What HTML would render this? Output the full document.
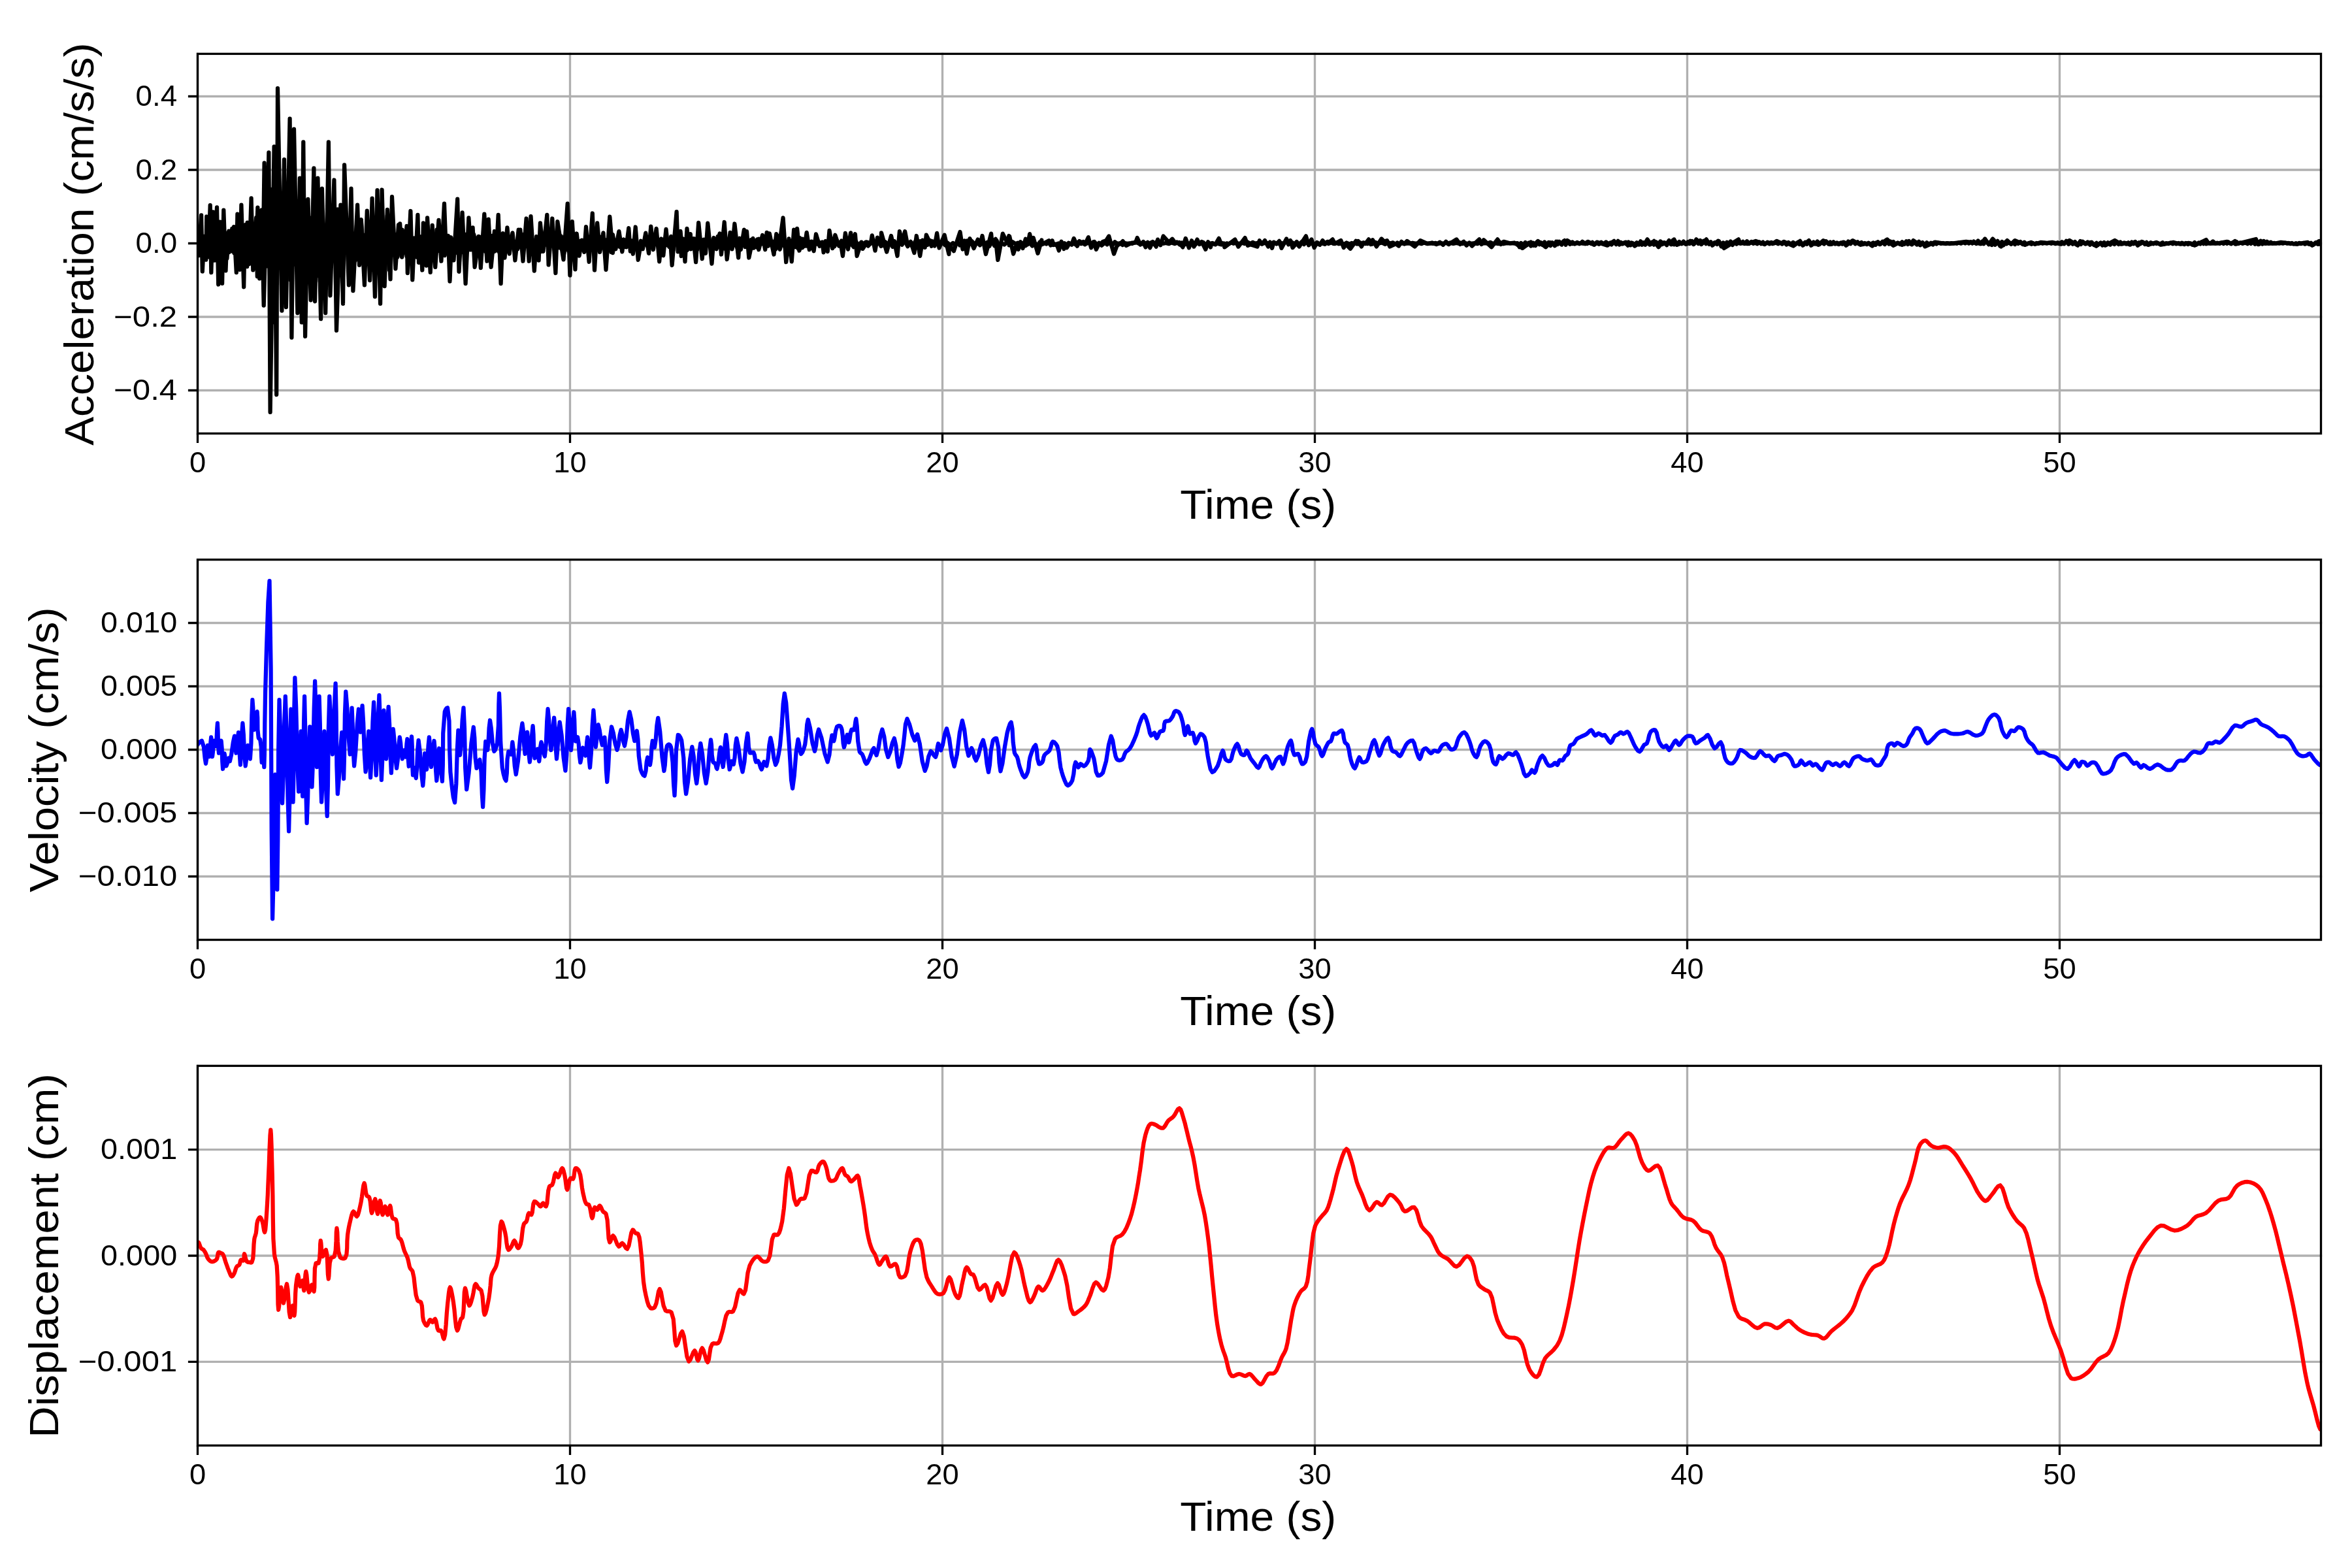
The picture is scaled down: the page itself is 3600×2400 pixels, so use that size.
<!DOCTYPE html><html><head><meta charset="utf-8"><style>html,body{margin:0;padding:0;background:#fff;}svg{display:block;will-change:transform;}text{font-family:"Liberation Sans",sans-serif;fill:#000;}</style></head><body>
<svg width="3600" height="2400" viewBox="0 0 3600 2400">
<rect x="0" y="0" width="3600" height="2400" fill="#ffffff"/>
<clipPath id="c0"><rect x="302.5" y="82.4" width="3250.0" height="581.1"/></clipPath>
<path d="M302.5 82.4V663.5M872.5 82.4V663.5M1442.5 82.4V663.5M2012.5 82.4V663.5M2582.5 82.4V663.5M3152.5 82.4V663.5M302.5 147.5H3552.5M302.5 260.0H3552.5M302.5 372.5H3552.5M302.5 485.0H3552.5M302.5 597.5H3552.5" stroke="#b0b0b0" stroke-width="3.33" fill="none" stroke-linecap="square"/>
<path d="M302.5 365.0L305.0 385.6L307.4 357.4L310.4 378.1L313.6 366.0L316.6 379.3L319.1 355.5L322.9 381.4L325.5 350.2L329.6 395.2L332.6 341.6L334.9 403.2L337.7 363.3L340.2 387.5L344.0 362.7L347.4 395.7L350.3 353.6L352.7 380.1L355.3 350.0L358.4 387.2L361.7 354.7L364.6 401.1L368.1 359.3L371.5 395.0L375.4 344.1L378.2 408.2L380.7 351.8L384.4 382.8L387.5 361.8L391.1 406.2L394.4 317.6L397.2 426.4L400.6 321.5L403.7 467.6L407.8 316.5L411.3 405.4L414.9 289.8L419.0 493.3L421.8 307.6L425.3 400.0L428.5 330.8L430.9 401.0L434.7 337.0L437.4 425.6L441.3 343.8L444.4 428.3L448.3 280.9L452.2 404.9L455.3 324.2L459.2 448.6L461.7 341.5L464.4 401.8L467.6 313.2L470.3 387.0L473.4 333.2L476.7 443.7L480.3 327.3L483.7 423.3L486.0 303.8L489.8 430.8L493.5 332.2L496.5 390.3L500.0 352.6L502.4 396.9L504.9 333.2L507.3 385.5L509.8 350.6L512.7 387.4L516.7 320.4L519.2 401.0L522.1 338.1L524.6 431.2L528.7 335.3L531.9 387.1L534.3 343.3L537.1 415.4L539.6 361.0L543.7 399.0L546.2 341.5L548.5 397.1L552.6 336.1L556.2 388.5L559.1 359.6L562.9 399.5L566.6 353.3L569.3 412.9L573.4 333.3L577.2 415.5L580.8 355.9L584.1 396.5L586.4 363.3L589.1 391.7L592.7 330.1L595.8 413.2L600.0 332.0L602.9 385.5L605.6 359.1L608.2 393.9L612.2 342.4L615.3 393.6L619.1 364.8L622.6 392.4L626.6 357.0L629.9 378.8L633.9 364.4L637.9 393.7L641.1 363.5L645.4 387.8L648.2 368.3L650.9 389.8L654.9 368.3L659.0 390.0L662.7 364.3L666.2 376.8L668.6 351.6L672.3 384.0L676.6 360.1L680.7 391.2L683.5 363.7L686.5 380.3L690.1 363.2L693.3 378.2L697.6 360.7L700.9 387.8L705.1 359.3L709.4 386.4L712.8 358.8L715.2 385.1L718.0 369.8L722.0 378.7L725.3 358.9L728.9 380.4L732.3 361.8L736.3 376.0L739.8 366.4L742.7 384.8L746.2 361.4L750.1 389.7L753.4 360.8L756.8 385.0L760.6 363.3L764.1 385.9L768.4 359.9L772.5 394.6L775.4 363.6L779.7 388.5L782.4 369.7L785.7 375.3L788.5 370.3L792.3 381.2L796.5 368.7L800.3 381.5L803.0 357.9L807.4 377.2L811.7 364.7L815.1 389.2L819.1 368.0L822.4 382.2L825.5 367.4L828.5 385.0L830.9 361.9L834.2 374.9L837.3 360.8L840.7 375.6L845.1 358.2L849.4 376.5L852.4 369.3L856.3 379.3L859.0 361.6L863.2 388.7L866.1 366.3L870.4 384.7L874.2 367.7L876.7 386.6L879.9 368.6L884.2 384.9L888.2 369.0L892.4 375.6L896.5 363.8L899.6 382.3L903.8 365.9L906.5 382.1L909.4 368.4L912.1 375.3L914.9 365.3L917.9 385.4L920.8 362.7L923.6 379.5L926.0 366.7L928.4 384.9L931.9 367.8L935.3 385.8L937.9 359.0L941.1 378.8L945.2 366.1L948.6 377.9L953.0 367.8L957.1 377.7L960.8 367.8L963.8 374.0L966.5 370.6L970.4 375.9L973.1 370.5L977.2 381.5L980.9 368.7L983.8 376.1L987.1 369.8L990.4 376.0L994.8 362.4L998.3 376.0L1002.6 368.5L1005.7 373.9L1008.9 367.2L1012.3 376.1L1015.7 371.0L1018.6 375.1L1021.8 370.2L1024.2 377.7L1027.1 361.8L1030.5 383.0L1034.3 358.0L1038.4 378.5L1041.5 353.9L1044.2 381.8L1047.9 369.9L1051.9 382.9L1055.6 362.1L1059.6 375.3L1063.1 365.5L1067.2 382.1L1071.2 364.4L1075.4 381.2L1079.2 368.4L1081.7 375.5L1084.8 369.8L1088.9 380.1L1092.5 364.0L1096.3 379.2L1098.7 362.0L1102.6 378.8L1106.1 363.4L1108.6 380.5L1111.5 370.0L1114.4 380.0L1117.2 362.6L1121.6 377.8L1124.7 365.7L1128.5 379.9L1132.1 364.7L1134.7 374.8L1137.6 364.5L1140.6 378.0L1143.0 370.8L1145.9 378.8L1149.7 366.9L1152.7 377.2L1156.0 368.6L1158.6 378.6L1161.4 365.7L1165.7 373.3L1169.0 366.9L1173.4 375.5L1176.3 370.2L1180.6 374.8L1184.2 369.8L1187.6 381.2L1190.3 361.1L1193.7 381.8L1197.5 367.4L1201.7 378.8L1204.2 370.5L1207.5 378.4L1210.5 369.2L1213.6 377.1L1217.7 371.1L1221.6 380.5L1224.2 364.1L1228.1 379.3L1231.0 370.2L1234.8 376.4L1239.0 370.5L1242.8 373.5L1245.7 372.0L1250.6 373.6L1255.6 371.2L1259.0 374.6L1262.3 370.4L1267.4 376.3L1272.1 368.8L1277.1 377.3L1281.2 368.6L1284.2 376.6L1288.0 368.6L1292.4 374.2L1295.3 368.0L1298.4 375.2L1302.0 371.0L1306.6 378.1L1310.0 369.4L1313.6 375.7L1317.3 371.8L1320.5 373.6L1325.5 370.5L1328.8 376.4L1334.0 370.6L1337.1 373.2L1340.1 370.9L1343.2 373.4L1346.6 369.7L1351.5 375.6L1355.3 370.4L1359.4 374.3L1363.0 372.2L1366.4 377.8L1369.5 369.8L1373.8 377.5L1377.2 371.0L1380.6 374.7L1384.4 367.3L1389.3 377.2L1392.1 372.3L1396.6 377.4L1400.6 369.9L1403.4 374.7L1408.4 369.3L1413.2 377.9L1416.6 372.0L1419.8 374.8L1424.2 368.3L1428.8 374.5L1433.4 370.4L1437.5 372.6L1442.2 371.5L1447.2 375.6L1450.7 371.9L1454.2 375.7L1458.6 372.0L1461.6 375.1L1465.8 370.5L1469.1 375.4L1472.0 370.9L1475.9 377.1L1480.2 368.6L1484.2 373.6L1487.5 369.0L1492.0 374.0L1494.9 370.8L1499.3 374.6L1502.7 369.8L1507.7 373.8L1510.6 371.0L1514.4 376.9L1517.7 368.9L1522.3 376.3L1525.6 368.2L1529.1 378.7L1532.5 371.5L1537.1 374.5L1542.2 370.4L1545.4 373.8L1549.2 369.9L1554.3 373.2L1558.1 371.7L1563.2 373.1L1566.1 372.3L1569.9 376.1L1574.8 369.3L1580.0 376.5L1583.6 371.8L1588.6 375.9L1591.5 370.4L1595.2 374.0L1598.8 372.1L1601.6 373.5L1605.3 371.0L1608.3 375.5L1611.6 372.0L1616.4 375.1L1620.3 372.4L1624.2 373.7L1629.2 372.2L1632.9 375.2L1635.7 371.7L1640.5 374.4L1643.4 372.4L1646.3 374.3L1649.8 370.6L1654.7 373.1L1658.2 369.9L1662.4 373.1L1667.0 371.6L1670.4 372.5L1675.0 370.0L1679.4 375.1L1682.2 371.8L1686.2 375.7L1691.3 371.3L1694.7 374.3L1698.6 369.4L1701.9 376.4L1706.5 370.2L1711.1 375.2L1714.7 371.9L1718.4 375.0L1721.4 372.2L1726.0 372.9L1728.9 372.4L1733.0 372.9L1738.2 370.3L1743.4 372.9L1746.4 372.3L1750.4 373.9L1754.2 372.0L1758.0 373.8L1762.5 370.8L1767.3 373.8L1770.4 370.1L1773.9 373.5L1777.6 370.1L1780.9 372.8L1784.2 372.0L1789.2 373.1L1792.7 371.4L1797.9 373.1L1801.3 370.5L1805.7 374.4L1808.7 371.4L1813.5 374.2L1818.5 372.4L1822.0 372.8L1825.2 370.4L1829.4 374.7L1833.1 370.8L1837.0 373.2L1841.7 371.0L1844.7 374.2L1849.0 372.1L1852.7 372.9L1856.0 372.0L1860.2 374.0L1863.5 372.5L1867.1 373.8L1870.3 371.8L1873.6 373.9L1877.7 372.4L1880.8 373.2L1884.9 371.2L1887.9 372.8L1892.4 371.6L1895.9 373.0L1901.0 371.7L1905.1 373.0L1908.9 370.3L1914.1 373.1L1917.4 370.9L1920.7 372.5L1925.6 371.8L1930.4 373.2L1935.3 371.9L1938.5 372.5L1942.6 371.7L1947.6 372.7L1951.9 371.9L1955.9 372.8L1959.4 371.5L1964.4 372.7L1968.4 370.8L1973.5 372.9L1976.6 370.4L1981.8 373.5L1984.7 370.0L1988.4 374.2L1992.7 369.9L1995.9 374.0L1999.2 371.1L2004.1 374.1L2007.3 371.8L2011.1 373.5L2014.8 372.2L2018.2 373.8L2023.1 372.4L2027.3 373.4L2030.2 371.0L2033.2 373.0L2037.4 371.3L2040.9 373.0L2045.1 371.7L2049.5 373.3L2053.3 372.5L2057.6 373.7L2061.0 371.5L2065.7 373.6L2068.9 371.9L2071.9 372.8L2075.8 372.4L2079.6 373.5L2082.5 371.5L2085.5 373.8L2090.2 371.6L2093.1 373.2L2096.8 370.7L2100.0 373.8L2105.2 371.0L2109.9 372.8L2115.1 371.5L2120.2 373.8L2123.4 371.0L2128.4 372.6L2132.0 371.3L2135.2 373.8L2138.7 371.5L2141.8 373.2L2146.8 372.3L2150.3 373.2L2153.8 372.5L2157.1 372.7L2162.1 371.7L2167.1 372.7L2171.7 372.3L2175.8 373.2L2179.5 371.4L2183.6 372.9L2188.5 372.4L2193.7 372.8L2197.5 371.9L2200.9 373.1L2205.1 372.2L2209.7 372.8L2212.9 371.6L2215.9 373.0L2219.3 371.5L2224.4 372.9L2228.8 371.9L2231.6 372.5L2234.8 371.4L2238.6 373.0L2243.6 372.3L2246.9 373.3L2249.8 372.5L2253.4 372.6L2257.1 372.1L2261.3 373.2L2264.6 371.4L2268.5 372.7L2273.6 372.1L2276.7 372.7L2281.0 370.9L2285.7 373.2L2289.2 372.5L2293.5 373.2L2297.1 371.3L2301.0 373.3L2305.6 372.2L2310.5 372.5L2314.6 372.2L2318.0 372.6L2322.7 372.2L2325.7 378.2L2328.1 372.0L2331.3 376.2L2334.6 371.0L2337.0 375.1L2339.6 371.9L2343.3 376.4L2346.7 371.8L2350.3 375.9L2353.3 370.2L2356.2 374.2L2358.5 371.3L2360.6 374.7L2364.1 370.5L2367.7 376.1L2370.3 370.9L2373.2 376.1L2376.2 371.3L2379.5 376.1L2381.9 369.8L2384.1 373.9L2386.6 369.8L2390.4 374.5L2393.1 369.3L2395.8 373.4L2399.5 369.9L2402.9 373.8L2406.7 370.5L2410.3 373.5L2414.0 370.9L2417.4 373.2L2420.0 371.5L2423.3 372.8L2427.0 371.7L2429.1 373.0L2432.9 371.4L2435.3 373.0L2437.4 370.9L2440.7 374.1L2444.1 371.9L2447.3 373.7L2450.9 370.8L2454.6 373.3L2458.2 370.4L2462.0 373.3L2464.5 371.6L2466.6 374.5L2470.2 370.4L2473.8 374.1L2476.4 371.6L2478.7 374.4L2481.2 371.1L2484.0 373.2L2486.6 371.4L2490.0 374.1L2492.6 370.6L2495.7 375.3L2498.9 372.0L2501.7 374.4L2505.2 371.2L2508.6 374.4L2511.1 369.3L2513.3 374.7L2515.7 371.4L2518.2 374.7L2522.1 371.3L2525.0 374.5L2528.6 370.7L2531.6 374.6L2535.2 370.6L2539.0 374.6L2541.4 369.4L2544.4 374.0L2547.7 371.2L2551.2 375.2L2554.7 369.1L2557.5 374.0L2560.3 368.0L2562.5 374.3L2564.7 370.5L2567.2 374.2L2570.3 370.1L2573.9 373.2L2576.9 369.6L2580.3 373.8L2583.6 370.2L2586.3 373.0L2589.9 369.0L2593.3 373.0L2596.2 368.4L2599.4 372.9L2602.3 368.0L2604.8 373.1L2607.5 368.7L2611.1 373.1L2613.5 370.4L2616.2 373.9L2618.5 370.2L2621.0 375.7L2624.4 371.2L2628.2 374.0L2631.0 369.1L2634.6 377.3L2637.4 371.4L2640.7 374.5L2643.2 370.7L2645.3 375.5L2648.8 369.5L2651.8 375.0L2654.8 370.9L2658.0 373.5L2661.4 367.9L2664.3 372.7L2667.7 369.9L2670.2 372.9L2673.9 369.2L2677.3 373.0L2680.6 370.0L2683.5 372.9L2686.7 371.6L2689.6 373.3L2693.0 370.5L2695.5 373.2L2698.5 370.6L2701.3 373.4L2705.1 371.5L2708.3 373.4L2711.1 370.9L2715.0 372.7L2718.1 371.4L2721.6 373.3L2724.6 371.6L2727.8 373.5L2731.1 370.8L2734.4 374.5L2737.4 371.0L2741.2 373.8L2744.6 371.0L2748.0 373.6L2751.9 370.9L2754.1 373.9L2756.9 371.6L2759.8 374.1L2763.1 370.7L2765.7 373.6L2769.2 369.1L2772.2 373.6L2775.7 370.6L2778.2 373.4L2781.7 369.5L2785.0 373.9L2788.1 371.0L2791.9 373.5L2795.2 369.4L2798.7 373.4L2801.4 370.6L2803.7 373.8L2806.4 370.4L2809.0 373.4L2811.6 371.4L2814.0 373.0L2817.4 371.5L2819.9 373.6L2822.9 371.0L2826.2 374.4L2828.9 369.4L2832.5 373.2L2836.1 369.2L2839.6 373.3L2843.2 370.3L2845.4 373.1L2849.2 370.9L2851.7 373.3L2854.1 371.9L2857.6 374.0L2860.0 371.8L2863.5 373.7L2867.2 371.5L2870.7 374.8L2874.4 370.2L2878.0 373.6L2881.4 369.8L2884.8 374.0L2888.5 369.2L2891.1 373.5L2893.4 369.5L2895.6 374.0L2898.0 370.0L2901.0 374.2L2904.6 371.6L2908.2 373.9L2911.4 370.3L2915.0 373.6L2917.8 369.3L2920.1 373.9L2923.3 371.6L2926.5 374.3L2930.3 370.7L2934.1 374.5L2937.1 369.7L2939.3 375.3L2942.5 371.3L2946.2 374.5L2949.1 371.3L2952.6 373.9L2955.5 371.7L2958.6 374.5L2961.2 371.2L2964.0 373.5L2966.6 371.6L2970.5 372.9L2974.0 372.0L2976.7 372.7L2979.8 372.1L2983.3 372.6L2986.7 372.1L2989.8 372.6L2992.5 372.3L2994.9 372.8L2998.1 371.4L3001.6 372.7L3004.8 370.9L3008.0 372.5L3011.2 370.8L3013.7 372.6L3016.6 370.2L3018.9 372.6L3021.1 369.6L3024.8 373.0L3027.6 368.5L3031.1 373.2L3033.7 369.8L3036.5 373.2L3039.4 368.4L3043.2 373.1L3046.3 370.9L3048.6 375.0L3051.8 367.3L3054.7 373.4L3057.5 368.8L3061.2 376.3L3064.2 369.9L3066.5 375.4L3069.0 371.0L3071.1 373.3L3074.4 371.3L3078.3 373.3L3081.9 371.3L3084.1 374.0L3086.6 369.7L3089.0 373.0L3092.5 370.1L3096.2 374.0L3098.4 370.7L3101.8 373.6L3105.6 371.8L3109.4 373.8L3111.5 372.2L3114.8 373.7L3117.0 371.9L3120.5 372.9L3124.1 371.7L3126.3 372.8L3129.4 371.8L3132.8 372.7L3136.3 371.8L3139.6 372.8L3142.4 371.8L3145.9 373.2L3149.4 371.1L3152.1 372.8L3155.9 370.3L3159.5 373.2L3162.7 368.9L3166.3 373.8L3169.0 370.4L3172.6 373.7L3176.0 370.1L3179.7 374.7L3182.3 371.7L3184.9 374.0L3188.0 369.9L3191.7 373.3L3195.3 370.5L3199.0 374.6L3201.6 370.9L3205.1 375.0L3208.9 371.9L3211.1 374.7L3214.7 371.9L3218.1 375.5L3220.6 371.0L3224.0 374.2L3226.4 371.3L3229.9 374.5L3232.8 371.4L3236.4 374.0L3238.9 370.0L3242.6 373.9L3245.6 370.6L3248.8 373.1L3251.2 371.5L3254.6 373.6L3257.7 371.3L3260.8 373.3L3262.9 370.5L3265.7 373.3L3268.9 370.8L3271.3 374.3L3274.0 371.2L3276.2 373.2L3280.1 370.7L3283.0 374.0L3285.6 370.9L3288.5 374.5L3292.0 371.1L3295.8 373.3L3298.0 371.9L3300.4 373.0L3302.6 371.7L3306.2 373.5L3310.1 371.3L3312.3 373.7L3315.1 372.1L3318.9 373.1L3322.0 371.6L3325.9 373.3L3328.7 371.8L3331.0 373.4L3334.9 372.0L3337.1 373.0L3339.8 371.6L3343.6 374.0L3345.7 371.9L3349.1 374.0L3353.0 372.3L3355.4 374.6L3359.1 371.1L3361.8 374.3L3365.3 371.5L3367.9 373.4L3370.3 370.2L3372.7 373.1L3375.0 369.2L3377.1 373.3L3379.6 371.3L3383.4 372.6L3387.1 369.4L3390.8 372.6L3393.7 371.6L3397.5 372.9L3400.8 371.3L3403.5 373.0L3406.4 370.8L3408.8 372.8L3411.0 370.5L3414.1 372.8L3417.7 371.2L3420.6 372.9L3423.2 370.0L3425.9 372.9L3428.9 371.3L3432.6 372.8L3436.4 371.5L3440.2 373.2L3442.6 370.0L3445.3 372.9L3447.7 369.9L3451.6 373.8L3455.4 370.8L3458.0 373.7L3460.2 368.7L3462.8 373.6L3464.9 368.9L3467.7 372.8L3469.8 369.7L3472.8 372.7L3475.7 370.6L3478.2 372.7L3480.5 371.9L3484.0 372.7L3486.5 372.1L3488.7 372.6L3491.7 371.9L3494.2 372.7L3497.6 371.6L3500.7 372.7L3502.9 371.9L3505.8 373.1L3508.0 372.0L3510.7 373.4L3514.3 372.2L3516.5 373.5L3519.4 371.8L3522.0 373.1L3525.6 371.9L3528.0 373.6L3531.2 372.1L3534.2 373.9L3537.2 371.8L3540.6 374.7L3544.3 371.2L3547.6 373.7L3551.1 371.7" stroke="#000" stroke-width="6.25" fill="none" stroke-linejoin="round" clip-path="url(#c0)"/>
<path d="M302.5 391.1L304.3 391.1L308.1 329.3L309.8 415.5L312.5 361.8L315.2 397.6L316.3 331.5L319.0 393.3L321.7 314.1L323.3 417.1L326.0 324.4L328.2 398.7L332.0 317.4L334.2 435.5L336.9 339.6L340.1 433.9L342.3 321.7L345.5 414.4L347.7 357.0L350.4 386.2L353.1 353.7L355.3 384.6L358.0 347.2L361.8 417.1L363.4 327.7L367.2 412.8L369.4 313.6L373.2 439.3L374.8 352.1L376.7 380.4L378.6 340.7L381.3 404.1L384.6 303.3L387.3 413.3L392.2 333.1L393.8 423.1L397.0 361.3L399.2 417.1L400.3 357.0L402.5 403.3L404.6 249.4L408.0 407.3L411.4 233.4L413.6 630.9L419.6 224.4L423.2 604.1L425.0 135.1L431.4 475.6L435.0 244.1L437.9 470.2L443.6 181.6L446.4 516.6L450.0 197.6L455.4 479.1L458.9 272.6L461.8 493.4L464.3 217.3L467.1 514.9L471.4 304.8L475.7 459.5L480.4 257.3L482.1 461.3L486.4 272.6L491.1 488.1L492.9 288.7L498.2 479.1L502.9 217.3L505.4 452.4L511.4 275.5L515.0 505.9L521.4 313.7L525.0 464.9L527.1 252.3L533.9 436.3L537.5 288.7L540.4 445.2L547.1 313.7L550.0 405.9L552.9 336.9L557.9 436.3L561.8 322.6L566.1 429.1L569.6 303.7L573.9 454.1L577.5 291.2L582.1 464.9L584.6 290.5L588.6 438.1L592.9 320.9L597.5 427.4L600.0 301.2L605.4 411.3L610.0 344.1L614.3 391.6L615.7 351.7L619.2 379.1L622.6 346.0L623.8 418.0L628.4 323.0L631.3 428.4L634.1 366.7L636.7 383.4L639.4 328.8L641.0 402.0L643.6 362.3L646.3 413.5L647.9 341.4L652.5 406.6L654.1 333.4L658.7 416.9L661.7 344.8L666.2 408.9L671.5 336.8L675.4 399.7L680.0 311.6L682.9 387.7L685.8 360.9L688.5 430.7L690.8 373.5L694.5 398.5L700.2 304.7L702.5 415.8L707.6 325.3L712.6 434.1L717.4 333.4L720.5 382.3L723.6 348.3L726.6 408.9L733.5 362.1L735.8 410.0L741.3 327.6L745.4 399.7L747.7 335.7L751.6 408.9L756.9 354.0L759.8 383.4L762.7 328.8L766.6 434.1L769.8 357.1L773.0 384.8L776.4 348.3L779.9 383.6L784.5 356.3L788.4 398.5L793.7 351.7L795.0 377.7L796.4 351.7L800.5 399.7L805.6 334.5L809.7 399.7L812.5 331.1L817.8 414.6L821.2 362.0L824.6 398.5L826.9 341.4L831.5 384.8L837.3 328.8L839.6 405.4L845.3 334.5L850.4 418.0L853.3 339.1L862.5 397.4L868.7 311.6L872.4 421.5L875.8 339.1L880.4 412.3L882.7 357.5L886.6 391.6L890.4 367.7L894.2 385.9L897.0 347.1L901.6 400.8L906.8 326.5L910.0 413.5L914.2 341.4L918.1 385.9L923.4 356.3L927.5 412.8L933.3 331.7L937.9 387.1L940.1 368.9L942.4 381.3L947.4 354.1L952.3 385.4L954.8 366.5L958.6 378.3L962.3 349.1L964.8 384.6L966.8 368.4L968.9 388.7L972.7 347.5L976.7 397.8L981.3 370.7L983.8 381.3L988.3 356.6L993.0 387.9L996.3 346.6L999.9 382.1L1004.6 349.9L1009.2 400.3L1012.3 365.5L1015.3 391.2L1019.5 350.8L1022.0 375.5L1026.1 368.2L1028.6 406.1L1035.6 324.2L1037.7 385.4L1042.7 368.2L1042.7 392.0L1045.6 365.5L1048.5 400.3L1051.5 349.9L1054.1 378.1L1056.8 358.2L1057.6 381.3L1061.4 365.3L1065.1 401.2L1069.2 340.8L1074.7 396.2L1077.4 366.6L1080.0 387.9L1083.3 341.7L1089.5 403.6L1092.4 364.9L1096.6 381.3L1101.6 357.4L1104.0 389.5L1108.7 340.0L1112.7 397.0L1117.6 355.8L1120.6 381.3L1124.4 342.5L1130.2 394.5L1132.1 367.0L1133.9 382.1L1138.9 351.6L1140.9 377.7L1143.0 354.1L1146.3 394.5L1152.5 364.9L1153.8 379.6L1159.1 366.5L1161.3 382.1L1167.1 359.9L1171.2 382.1L1173.7 355.8L1175.8 376.7L1177.8 357.4L1184.5 389.5L1188.3 358.2L1193.3 372.1L1198.6 333.4L1203.2 401.2L1207.5 365.3L1211.8 400.3L1215.1 351.6L1217.6 378.1L1220.1 349.9L1223.4 383.7L1228.4 365.7L1231.6 376.7L1234.7 355.8L1238.8 382.2L1242.2 369.6L1245.6 384.3L1249.0 358.3L1254.5 376.8L1258.6 370.6L1260.6 386.3L1263.7 369.0L1266.7 385.0L1269.5 352.9L1274.2 380.2L1278.3 359.7L1282.4 372.0L1286.5 370.6L1289.9 391.8L1293.9 356.9L1298.0 381.6L1302.1 356.3L1304.8 375.4L1308.9 358.3L1311.6 391.8L1318.4 370.6L1320.5 380.9L1327.3 370.6L1332.7 372.7L1334.8 360.3L1339.5 383.6L1342.9 363.7L1348.4 376.8L1349.0 356.3L1357.2 385.6L1364.0 361.0L1366.1 370.0L1368.8 369.2L1373.5 391.8L1376.9 354.2L1381.0 370.7L1385.1 354.2L1389.2 375.4L1393.9 369.9L1399.4 387.0L1402.8 361.0L1408.2 391.8L1412.0 367.7L1415.7 378.8L1417.8 359.7L1425.9 376.8L1427.3 369.2L1430.7 376.4L1434.1 356.9L1437.5 379.5L1445.6 359.7L1452.4 389.0L1453.1 374.6L1459.9 384.3L1469.5 354.9L1473.5 381.6L1476.6 368.5L1479.7 388.4L1484.4 365.1L1490.5 380.2L1496.7 366.5L1500.1 375.4L1503.5 361.0L1508.9 389.0L1517.1 357.6L1518.4 372.0L1523.9 365.8L1527.3 397.9L1534.8 357.6L1541.6 371.4L1544.3 361.0L1544.7 375.4L1545.1 361.5L1551.1 388.6L1556.2 373.4L1558.7 381.8L1562.1 370.2L1565.5 380.1L1569.8 365.7L1573.2 374.2L1576.1 358.1L1579.1 371.6L1581.7 364.0L1588.5 387.8L1594.4 367.4L1594.4 374.2L1605.5 368.3L1608.0 373.6L1610.6 368.3L1612.3 375.0L1617.4 373.4L1620.8 383.5L1624.6 369.7L1628.4 381.0L1629.3 375.9L1632.7 379.3L1636.9 372.5L1640.3 374.4L1643.7 364.9L1648.8 376.7L1652.2 369.1L1660.7 374.2L1665.9 363.2L1670.1 379.3L1673.9 370.2L1677.8 381.8L1682.0 373.4L1685.0 373.1L1688.0 370.0L1693.1 368.2L1697.3 361.5L1705.0 388.6L1710.9 372.5L1714.7 373.3L1718.6 369.1L1723.7 375.9L1732.2 371.7L1738.1 371.6L1740.7 364.0L1745.4 374.6L1750.0 370.0L1753.4 378.4L1756.8 370.8L1760.2 379.3L1764.5 370.0L1769.6 377.6L1772.1 366.6L1776.4 375.3L1780.6 361.5L1789.1 370.8L1794.3 365.7L1799.4 372.5L1804.9 371.0L1810.4 378.4L1814.7 364.9L1819.8 379.3L1824.0 368.3L1827.4 377.6L1832.5 366.6L1835.9 374.0L1839.3 370.0L1845.3 381.8L1849.1 370.2L1852.9 378.4L1854.6 372.5L1860.2 374.4L1865.7 364.9L1869.5 374.4L1873.3 372.5L1874.2 378.4L1890.3 366.6L1895.4 377.6L1905.6 364.0L1909.9 375.9L1914.1 374.2L1924.4 377.6L1927.8 368.3L1931.9 373.6L1936.0 368.1L1941.1 377.4L1944.0 370.6L1947.0 379.9L1949.6 370.6L1953.8 373.4L1958.1 368.9L1961.5 379.9L1969.1 365.5L1972.1 374.2L1975.1 368.1L1978.5 379.1L1984.4 372.3L1988.7 377.4L1998.9 361.3L2003.1 375.3L2007.4 366.4L2011.6 379.1L2015.9 370.9L2020.1 374.8L2024.4 368.1L2028.2 373.6L2032.0 369.8L2034.6 370.6L2039.7 366.4L2043.1 373.1L2052.4 368.1L2056.7 379.1L2060.1 374.0L2066.9 380.8L2075.4 368.9L2077.1 373.4L2078.8 368.9L2083.9 377.4L2086.9 371.3L2089.9 373.1L2095.0 366.4L2097.9 374.0L2100.9 367.2L2106.9 377.4L2114.5 365.5L2118.8 369.7L2123.0 368.1L2127.3 377.4L2136.6 373.2L2140.9 376.5L2145.1 369.8L2149.4 373.4L2153.6 368.9L2165.5 377.4L2174.0 368.1L2185.1 373.1L2191.9 371.5L2198.7 374.0L2203.8 370.6L2208.9 374.8L2213.2 369.8L2217.4 374.0L2229.3 366.4L2234.8 374.0L2240.4 369.8L2244.6 375.7L2248.9 371.5L2253.1 376.5L2264.2 366.4L2267.6 374.0L2271.0 367.2L2282.9 378.2L2292.2 366.4L2297.3 374.0L2301.6 369.8L2311.0 372.3L2317.8 371.5L2330.2 379.9L2343.0 370.6L2347.2 375.7L2354.0 368.9L2365.9 378.2L2373.1 371.1L2380.4 375.7L2383.8 369.8L2389.3 373.6L2394.8 368.1L2396.5 374.8L2399.1 368.1L2406.7 373.1L2413.5 372.3L2420.3 372.3L2422.0 369.8L2426.3 373.2L2430.5 369.8L2439.9 374.8L2444.1 370.6L2460.3 375.7L2470.5 368.9L2473.5 373.4L2476.5 368.9L2482.4 373.4L2488.4 370.6L2491.8 375.7L2496.9 371.5L2502.0 376.5L2510.1 371.5L2518.1 372.3L2521.5 366.4L2526.6 374.0L2531.7 368.9L2538.5 378.2L2544.5 371.1L2550.4 374.0L2554.7 368.1L2558.5 374.0L2562.3 366.4L2566.6 374.8L2574.7 371.9L2582.8 373.1L2587.0 368.9L2592.1 374.0L2596.4 366.4L2604.0 374.0L2611.7 366.4L2615.9 373.1L2618.9 371.9L2621.9 374.8L2629.5 368.9L2638.9 379.9L2661.0 366.4L2661.8 372.3L2668.6 372.3L2675.4 373.1L2687.3 368.9L2701.0 374.0L2705.2 370.6L2712.9 373.1L2719.4 368.9L2727.0 372.3L2730.4 369.8L2744.9 376.5L2755.1 368.9L2759.3 375.7L2768.7 368.1L2772.1 375.7L2777.6 371.7L2783.1 374.8L2790.8 368.1L2801.0 374.0L2807.8 372.1L2814.6 374.0L2821.4 370.6L2825.6 375.7L2835.9 368.1L2847.8 374.8L2859.7 372.3L2865.6 376.5L2871.6 371.5L2877.5 374.0L2888.6 366.4L2897.9 375.7L2904.7 371.7L2911.5 374.8L2921.7 368.9L2925.1 373.6L2928.5 368.1L2938.7 374.8L2942.6 371.3L2946.4 377.4L2961.7 370.6L2978.7 373.1L2981.3 372.3L2983.8 373.1L3009.3 369.8L3033.1 373.1L3038.2 365.5L3044.2 374.2L3050.1 365.5L3053.5 374.8L3058.2 371.3L3062.9 377.4L3072.2 368.1L3078.2 373.6L3084.1 368.1L3099.5 374.8L3108.8 370.9L3114.7 373.7L3123.5 370.9L3133.2 371.8L3141.1 370.9L3154.8 373.7L3167.5 368.0L3180.2 375.7L3184.1 369.0L3191.9 373.4L3199.7 370.9L3208.5 376.7L3215.4 371.5L3222.2 375.7L3236.9 368.0L3246.7 373.7L3253.5 372.0L3260.4 374.7L3268.2 369.9L3272.1 375.7L3278.0 369.9L3287.8 374.7L3300.5 370.9L3307.3 374.7L3326.9 370.9L3337.6 373.7L3350.3 371.9L3359.1 375.7L3376.7 367.0L3380.7 372.7L3387.0 372.4L3393.4 372.7L3409.0 369.9L3414.9 373.4L3420.8 369.0L3421.7 373.7L3453.0 366.0L3456.4 374.1L3459.9 369.0L3462.8 372.7L3472.1 372.4L3481.4 372.7L3491.2 370.9L3514.6 373.7L3532.2 370.9L3539.1 375.7L3549.8 369.0L3549.8 373.7L3552.5 373.7" stroke="#000000" stroke-width="6.25" fill="none" stroke-linejoin="round" stroke-linecap="butt" clip-path="url(#c0)"/>
<rect x="302.5" y="82.4" width="3250.0" height="581.1" stroke="#000" stroke-width="3.33" fill="none"/>
<path d="M302.5 663.5V678.1M872.5 663.5V678.1M1442.5 663.5V678.1M2012.5 663.5V678.1M2582.5 663.5V678.1M3152.5 663.5V678.1M302.5 147.5H287.9M302.5 260.0H287.9M302.5 372.5H287.9M302.5 485.0H287.9M302.5 597.5H287.9" stroke="#000" stroke-width="3.33" fill="none"/>
<text x="302.5" y="722.9" font-size="45" text-anchor="middle" textLength="25.2" lengthAdjust="spacingAndGlyphs">0</text>
<text x="872.5" y="722.9" font-size="45" text-anchor="middle" textLength="50.4" lengthAdjust="spacingAndGlyphs">10</text>
<text x="1442.5" y="722.9" font-size="45" text-anchor="middle" textLength="50.4" lengthAdjust="spacingAndGlyphs">20</text>
<text x="2012.5" y="722.9" font-size="45" text-anchor="middle" textLength="50.4" lengthAdjust="spacingAndGlyphs">30</text>
<text x="2582.5" y="722.9" font-size="45" text-anchor="middle" textLength="50.4" lengthAdjust="spacingAndGlyphs">40</text>
<text x="3152.5" y="722.9" font-size="45" text-anchor="middle" textLength="50.4" lengthAdjust="spacingAndGlyphs">50</text>
<text x="271.2" y="162.1" font-size="45" text-anchor="end" textLength="63.6" lengthAdjust="spacingAndGlyphs">0.4</text>
<text x="271.2" y="274.6" font-size="45" text-anchor="end" textLength="63.6" lengthAdjust="spacingAndGlyphs">0.2</text>
<text x="271.2" y="387.1" font-size="45" text-anchor="end" textLength="63.6" lengthAdjust="spacingAndGlyphs">0.0</text>
<text x="271.2" y="499.6" font-size="45" text-anchor="end" textLength="97.1" lengthAdjust="spacingAndGlyphs">−0.2</text>
<text x="271.2" y="612.1" font-size="45" text-anchor="end" textLength="97.1" lengthAdjust="spacingAndGlyphs">−0.4</text>
<text x="1925.8" y="794.4" font-size="63" text-anchor="middle" textLength="239.0" lengthAdjust="spacingAndGlyphs">Time (s)</text>
<text transform="translate(142.5 373.8) rotate(-90)" x="0" y="0" font-size="63" text-anchor="middle" textLength="616.6" lengthAdjust="spacingAndGlyphs">Acceleration (cm/s/s)</text>
<clipPath id="c1"><rect x="302.5" y="856.6" width="3250.0" height="581.9"/></clipPath>
<path d="M302.5 856.6V1438.5M872.5 856.6V1438.5M1442.5 856.6V1438.5M2012.5 856.6V1438.5M2582.5 856.6V1438.5M3152.5 856.6V1438.5M302.5 953.5H3552.5M302.5 1050.5H3552.5M302.5 1147.5H3552.5M302.5 1244.5H3552.5M302.5 1341.5H3552.5" stroke="#b0b0b0" stroke-width="3.33" fill="none" stroke-linecap="square"/>
<path d="M300.0 1143.2L301.8 1140.6L305.6 1135.9L308.9 1133.7L311.9 1143.3L313.6 1160.0L315.0 1168.8L316.1 1161.5L317.0 1148.1L317.9 1140.9L318.7 1145.3L319.5 1153.6L320.4 1158.1L321.4 1150.4L322.4 1136.0L323.2 1128.4L323.8 1136.1L324.3 1150.4L325.0 1158.1L325.8 1151.8L326.7 1140.1L327.9 1133.7L328.7 1135.9L329.6 1139.9L330.4 1142.0L331.5 1132.8L332.2 1116.0L332.9 1106.9L333.5 1118.8L334.0 1140.8L335.0 1152.7L336.1 1147.8L337.4 1138.6L338.6 1133.7L339.6 1145.0L340.3 1165.8L341.1 1177.0L341.8 1170.9L342.7 1159.5L343.6 1153.4L344.4 1158.3L345.3 1167.4L346.4 1172.4L347.6 1169.3L348.8 1163.6L350.0 1160.5L350.6 1161.7L351.2 1164.0L351.8 1165.2L354.1 1155.1L356.8 1136.5L358.9 1126.6L360.0 1133.4L360.7 1145.9L361.4 1152.7L362.6 1144.5L363.9 1129.4L365.0 1121.2L366.1 1134.0L367.0 1157.8L367.9 1170.6L369.0 1154.1L370.2 1123.4L371.4 1106.9L372.8 1123.9L374.2 1155.4L375.7 1172.4L376.8 1164.2L378.0 1149.0L379.3 1140.9L380.5 1146.2L381.7 1156.3L382.9 1161.6L384.4 1138.1L385.4 1094.6L386.4 1071.2L387.3 1083.1L388.1 1105.1L389.3 1117.0L390.7 1109.8L392.2 1096.3L393.6 1089.1L394.2 1098.4L394.4 1116.7L395.7 1129.5L396.5 1130.5L397.4 1131.0L398.2 1131.9L399.7 1143.1L400.2 1159.0L400.7 1167.0L401.5 1161.1L402.2 1150.3L402.9 1144.4L403.4 1152.1L403.9 1166.4L404.3 1174.1L404.9 1153.6L405.3 1107.4L406.1 1058.7L408.0 992.0L410.4 921.7L412.5 889.1L414.6 1023.2L415.7 1272.2L417.1 1406.3L418.5 1349.0L420.0 1242.7L421.4 1185.5L422.5 1231.2L423.4 1316.0L424.3 1361.6L425.3 1286.3L426.2 1146.5L427.5 1071.2L428.9 1112.2L430.5 1188.5L432.1 1229.5L433.7 1187.1L435.2 1108.3L436.8 1065.9L438.6 1119.4L440.5 1218.8L442.1 1272.4L443.3 1223.9L444.3 1133.9L445.4 1085.5L446.4 1122.4L447.5 1190.8L448.6 1227.7L449.5 1178.3L450.3 1086.7L451.4 1037.3L453.2 1082.5L455.2 1166.4L457.1 1211.6L458.4 1187.7L459.6 1143.3L460.7 1119.4L461.6 1145.2L462.4 1193.0L463.2 1218.8L464.2 1179.1L465.1 1105.5L466.1 1065.9L467.2 1116.2L468.3 1209.6L469.6 1259.9L471.1 1221.6L472.7 1150.5L474.3 1112.3L475.4 1136.2L476.4 1180.6L477.5 1204.5L479.1 1162.5L480.7 1084.6L482.1 1042.6L483.1 1076.7L484.0 1140.0L485.0 1174.1L486.1 1146.1L487.4 1093.9L488.6 1065.9L489.8 1107.8L490.8 1185.7L492.1 1227.7L493.5 1199.6L495.0 1147.5L496.4 1119.4L497.9 1153.1L499.4 1215.5L500.7 1249.1L501.9 1201.6L502.9 1113.4L504.3 1065.9L505.7 1088.8L507.3 1131.5L508.9 1154.5L510.6 1126.4L512.2 1074.3L513.6 1046.2L514.6 1090.0L515.4 1171.4L516.8 1215.2L518.8 1190.9L521.2 1145.6L523.2 1121.2L524.4 1139.6L525.2 1173.7L526.1 1192.0L527.0 1157.4L527.9 1093.3L529.3 1058.7L531.3 1083.5L533.7 1129.7L535.7 1154.5L536.8 1136.1L537.7 1102.1L538.6 1083.7L539.6 1106.7L540.7 1149.4L542.1 1172.4L544.3 1149.9L546.8 1108.0L548.9 1085.5L550.0 1094.6L550.9 1111.5L551.8 1120.6L552.7 1110.1L553.7 1090.6L554.6 1080.1L556.2 1106.4L557.9 1155.1L559.6 1181.3L561.2 1165.3L562.9 1135.5L564.3 1119.4L565.4 1137.8L566.2 1171.9L567.1 1190.2L568.7 1160.3L570.5 1104.7L572.1 1074.8L573.4 1103.8L574.5 1157.6L575.7 1186.6L577.2 1154.9L578.9 1095.8L580.4 1064.1L581.6 1097.7L582.8 1160.2L583.9 1193.8L585.1 1166.2L586.2 1114.9L587.5 1087.3L588.7 1106.6L589.9 1142.4L591.1 1161.6L592.3 1141.0L593.4 1102.6L594.6 1081.9L596.1 1108.2L597.6 1156.8L598.9 1183.1L599.8 1165.7L600.6 1133.3L601.8 1115.9L603.4 1131.4L605.3 1160.3L607.1 1175.9L608.7 1163.6L610.2 1140.7L611.8 1128.4L613.1 1136.9L614.4 1152.9L615.7 1161.5L616.7 1158.1L617.7 1151.8L618.6 1148.4L619.3 1151.0L619.9 1156.0L620.5 1158.6L621.5 1151.5L622.5 1138.3L623.4 1131.2L624.2 1142.0L624.8 1162.1L625.7 1173.0L627.1 1161.1L628.7 1139.2L630.1 1127.3L630.8 1142.6L631.2 1171.0L632.0 1186.4L632.6 1183.5L633.2 1178.1L633.9 1175.1L634.8 1179.3L635.8 1187.0L636.8 1191.1L638.1 1176.1L639.2 1148.1L640.6 1133.1L642.8 1151.1L645.2 1184.6L647.3 1202.6L648.4 1189.8L649.2 1166.0L650.2 1153.2L651.1 1159.5L652.1 1171.4L653.0 1177.8L654.3 1164.9L655.6 1141.1L656.9 1128.3L657.9 1140.1L658.9 1162.1L660.1 1173.9L661.5 1163.6L663.1 1144.4L664.5 1134.0L665.9 1149.8L667.1 1179.2L668.3 1195.0L669.6 1182.2L670.8 1158.3L672.2 1145.5L673.8 1158.6L675.4 1182.9L676.9 1195.9L677.8 1171.1L678.2 1122.6L680.8 1089.1L682.1 1086.0L683.6 1083.9L685.0 1083.3L687.5 1103.5L688.1 1144.5L689.4 1181.6L691.5 1202.0L693.9 1220.5L696.1 1228.4L698.3 1199.7L699.9 1146.4L701.4 1117.8L702.3 1127.6L703.2 1145.9L704.1 1155.8L705.8 1137.0L707.7 1102.1L709.5 1083.3L711.0 1115.7L712.2 1175.9L714.2 1208.4L717.5 1183.7L721.4 1137.7L724.8 1113.0L726.3 1129.2L727.5 1159.4L729.5 1175.8L731.1 1172.5L732.8 1166.1L734.3 1162.7L736.6 1181.7L737.9 1216.5L739.1 1235.1L740.4 1209.2L741.6 1161.0L743.3 1135.0L744.2 1138.4L745.2 1144.7L746.2 1148.1L747.5 1136.2L748.6 1114.3L750.0 1102.5L751.8 1114.7L753.9 1137.6L756.3 1150.0L757.9 1148.1L759.6 1143.1L761.1 1136.9L762.9 1110.8L763.4 1077.7L764.0 1061.3L765.0 1085.8L766.2 1135.5L768.8 1174.9L770.6 1184.4L772.7 1192.0L774.5 1195.0L775.8 1183.5L776.5 1162.2L778.3 1150.3L779.6 1151.4L781.0 1153.7L782.1 1154.8L783.3 1149.7L783.8 1140.7L784.4 1135.9L786.0 1148.8L787.8 1172.6L789.8 1185.4L792.9 1165.1L796.4 1127.5L799.4 1107.2L801.0 1119.3L802.3 1141.8L803.6 1153.8L804.7 1145.2L805.9 1129.2L807.0 1120.6L808.3 1132.5L809.5 1154.4L810.8 1166.3L812.5 1152.0L814.1 1125.4L815.6 1111.1L816.5 1123.9L817.1 1147.6L818.5 1160.5L819.8 1156.9L821.4 1150.1L822.7 1146.5L823.7 1151.4L824.4 1160.5L825.2 1165.3L826.1 1157.7L827.1 1143.6L828.4 1135.9L830.1 1141.6L832.1 1152.1L833.8 1157.7L835.8 1138.8L837.2 1104.0L838.6 1085.2L840.1 1101.5L841.7 1131.8L843.4 1148.1L845.0 1135.3L846.6 1111.5L848.1 1098.6L849.5 1114.9L850.7 1145.2L852.0 1161.5L853.4 1147.0L854.9 1119.9L856.7 1105.3L859.5 1124.6L862.7 1160.4L865.4 1179.7L867.3 1155.2L868.7 1109.7L870.1 1085.2L871.4 1101.5L872.6 1131.8L874.0 1148.1L875.4 1133.1L877.0 1105.1L878.4 1090.0L879.2 1101.5L879.8 1123.0L881.2 1134.7L882.1 1133.1L883.2 1129.9L884.1 1128.3L885.7 1138.5L887.0 1157.2L888.3 1167.2L889.5 1161.4L890.7 1150.5L892.1 1144.5L893.4 1147.7L894.8 1153.6L896.0 1156.7L897.3 1149.3L898.3 1135.6L899.2 1128.3L900.5 1140.4L901.8 1162.8L903.0 1174.9L904.9 1152.1L906.7 1109.9L908.4 1087.2L909.5 1101.7L910.6 1128.8L911.8 1143.3L912.9 1134.5L914.2 1118.1L915.7 1109.2L917.6 1117.2L919.8 1132.3L921.8 1140.5L922.8 1137.9L923.8 1132.8L924.7 1129.2L924.9 1128.9L925.1 1128.6L925.4 1128.6L926.8 1146.6L927.9 1179.3L929.2 1196.8L931.0 1175.0L933.1 1134.5L936.1 1112.5L938.7 1121.6L941.7 1138.7L944.5 1147.9L946.7 1139.9L948.6 1125.1L950.6 1117.1L952.4 1123.5L954.2 1135.4L956.0 1141.7L958.5 1128.2L961.0 1103.1L963.6 1089.6L966.2 1101.1L968.9 1122.5L971.3 1134.1L972.5 1130.1L973.7 1122.6L974.8 1118.7L976.4 1131.5L977.8 1157.4L980.5 1177.7L982.4 1182.6L984.6 1186.3L986.6 1187.6L988.5 1180.1L989.7 1166.5L991.2 1159.2L992.4 1162.2L993.8 1167.8L995.0 1170.8L996.4 1161.2L997.5 1143.5L998.8 1134.0L999.8 1136.5L1000.9 1141.4L1001.9 1144.0L1003.7 1132.2L1005.4 1110.5L1007.2 1098.8L1010.2 1119.8L1013.5 1158.9L1016.4 1180.0L1017.8 1171.1L1018.9 1153.7L1021.0 1141.6L1022.0 1140.3L1023.1 1139.6L1024.1 1139.4L1025.2 1140.1L1026.2 1141.6L1027.1 1143.9L1029.6 1167.2L1031.1 1200.5L1032.5 1217.5L1033.7 1193.7L1034.9 1149.3L1037.8 1124.8L1039.6 1125.8L1041.5 1128.9L1043.2 1133.2L1046.3 1160.2L1048.0 1196.8L1050.1 1215.2L1053.0 1196.5L1056.2 1161.8L1059.3 1143.1L1061.7 1157.7L1064.0 1184.6L1066.2 1199.1L1068.2 1183.2L1070.1 1153.7L1072.3 1137.8L1075.0 1153.7L1077.9 1183.2L1080.7 1199.1L1083.4 1181.8L1085.9 1149.7L1088.0 1132.4L1089.0 1140.2L1089.7 1155.5L1091.4 1166.2L1092.4 1167.2L1093.5 1167.6L1094.5 1168.4L1095.7 1171.4L1096.6 1175.2L1097.5 1176.9L1099.4 1168.3L1101.2 1152.4L1102.9 1143.9L1104.3 1151.7L1105.5 1166.1L1106.7 1173.9L1108.3 1161.1L1109.7 1137.5L1111.3 1124.8L1113.0 1138.5L1114.8 1163.9L1116.7 1177.7L1117.6 1174.6L1118.6 1168.7L1119.7 1165.3L1120.7 1166.5L1121.8 1168.9L1122.8 1170.0L1124.6 1159.5L1125.8 1140.4L1127.4 1130.1L1130.2 1143.4L1133.5 1168.2L1136.6 1181.5L1139.4 1166.2L1141.9 1137.8L1144.2 1122.5L1145.1 1129.7L1145.9 1143.6L1148.0 1152.4L1149.7 1152.5L1151.7 1151.6L1153.4 1151.6L1155.0 1155.9L1155.9 1162.4L1157.2 1166.2L1158.2 1165.9L1159.3 1164.9L1160.3 1164.6L1162.2 1168.3L1164.0 1174.5L1165.6 1177.7L1166.9 1174.7L1168.1 1169.2L1169.5 1166.1L1170.7 1167.7L1172.0 1170.8L1173.3 1172.3L1175.6 1161.0L1177.4 1140.4L1179.4 1129.4L1181.8 1140.1L1184.4 1160.0L1187.1 1170.8L1189.4 1165.8L1191.8 1154.2L1194.0 1140.8L1196.6 1111.3L1198.7 1077.4L1200.8 1061.3L1203.2 1075.6L1205.5 1107.0L1207.7 1137.9L1209.5 1166.2L1211.1 1194.1L1213.1 1206.8L1215.7 1187.3L1218.6 1151.2L1221.5 1131.7L1222.9 1137.4L1224.3 1148.1L1226.1 1154.0L1228.1 1151.6L1230.3 1145.9L1232.2 1139.3L1234.0 1125.3L1235.2 1109.2L1236.8 1101.5L1239.9 1114.0L1243.6 1137.4L1247.0 1149.9L1249.0 1141.3L1250.8 1125.2L1253.1 1116.5L1257.4 1129.4L1262.4 1153.4L1266.7 1166.3L1269.4 1155.6L1271.6 1135.9L1273.5 1125.3L1274.5 1127.6L1275.3 1132.0L1276.3 1134.3L1277.5 1129.2L1278.9 1119.4L1281.0 1112.4L1282.6 1111.3L1284.3 1110.9L1285.8 1111.1L1286.9 1112.2L1287.7 1114.1L1288.5 1116.5L1289.8 1126.0L1290.7 1137.9L1291.9 1143.8L1293.4 1138.9L1295.1 1129.6L1296.7 1124.6L1297.6 1127.7L1298.5 1133.3L1299.4 1136.3L1300.5 1131.5L1301.7 1122.3L1303.5 1116.5L1304.6 1116.5L1305.8 1117.2L1306.9 1117.3L1308.4 1112.2L1309.4 1104.3L1310.3 1100.1L1311.7 1111.7L1313.2 1134.4L1315.7 1150.6L1317.0 1152.3L1318.4 1153.2L1319.8 1154.6L1321.9 1159.7L1323.9 1165.9L1325.9 1169.0L1327.5 1167.7L1329.1 1164.7L1330.7 1161.4L1333.0 1155.2L1335.4 1148.3L1337.5 1145.0L1338.9 1147.9L1340.2 1153.2L1341.6 1156.0L1344.4 1145.7L1347.4 1126.7L1350.4 1116.5L1353.3 1127.4L1356.1 1147.7L1359.3 1158.8L1362.4 1151.4L1365.8 1137.5L1368.8 1130.1L1371.4 1141.5L1373.4 1162.4L1375.6 1173.7L1377.8 1168.1L1380.2 1155.5L1382.4 1142.3L1384.3 1125.7L1386.0 1108.3L1388.5 1100.1L1392.1 1108.7L1396.4 1124.8L1400.1 1133.6L1401.5 1131.1L1402.8 1126.4L1404.1 1124.0L1407.8 1138.6L1411.7 1165.4L1415.7 1179.9L1418.5 1172.3L1421.3 1158.0L1424.6 1149.8L1427.1 1152.0L1429.8 1156.6L1432.0 1158.8L1433.8 1153.2L1434.9 1143.5L1436.1 1138.2L1437.4 1140.9L1438.8 1145.9L1440.2 1148.6L1443.0 1139.8L1446.0 1123.7L1449.0 1115.1L1452.9 1130.2L1456.8 1158.1L1460.6 1173.1L1464.8 1154.8L1468.9 1121.1L1472.9 1102.9L1476.1 1116.7L1479.2 1142.6L1482.4 1156.7L1483.9 1153.8L1485.5 1148.1L1487.1 1145.0L1489.3 1150.0L1491.5 1159.3L1493.9 1164.2L1497.5 1156.0L1501.4 1140.8L1504.8 1132.8L1508.0 1145.7L1510.6 1169.3L1513.0 1181.9L1514.9 1170.8L1516.7 1149.0L1519.8 1133.5L1521.6 1131.4L1523.5 1130.1L1525.2 1130.1L1528.2 1144.1L1529.6 1167.9L1531.4 1180.5L1534.4 1168.4L1537.9 1143.1L1541.6 1121.9L1543.6 1114.4L1545.8 1108.0L1547.7 1105.5L1549.5 1115.9L1550.7 1136.4L1552.8 1152.2L1554.1 1154.9L1555.7 1156.8L1557.0 1159.0L1558.2 1163.2L1559.1 1167.8L1560.4 1172.7L1562.7 1179.4L1565.4 1186.4L1568.1 1189.7L1569.9 1188.3L1571.6 1185.0L1573.2 1181.2L1574.5 1174.5L1575.2 1166.6L1576.6 1159.0L1579.2 1151.2L1582.3 1143.6L1585.1 1140.3L1586.8 1147.6L1588.0 1161.1L1590.2 1169.3L1591.8 1169.3L1593.7 1168.2L1595.3 1166.7L1596.6 1163.5L1597.3 1159.4L1598.7 1155.6L1601.0 1153.3L1603.8 1151.3L1606.3 1148.8L1608.2 1143.9L1609.6 1138.2L1611.4 1135.2L1613.6 1136.0L1616.1 1138.6L1618.2 1142.0L1620.5 1151.2L1621.8 1163.3L1623.3 1174.4L1625.1 1181.6L1627.1 1188.2L1629.3 1193.9L1630.9 1197.6L1632.5 1200.9L1634.4 1202.4L1636.6 1201.3L1639.1 1198.4L1641.2 1194.8L1643.3 1184.8L1644.6 1172.8L1646.3 1166.7L1647.6 1168.6L1649.1 1172.3L1650.5 1174.4L1651.6 1173.1L1652.7 1170.7L1653.9 1169.3L1655.5 1170.1L1657.3 1171.8L1659.0 1172.7L1661.5 1171.1L1663.9 1167.9L1665.9 1164.1L1667.1 1157.8L1667.5 1150.6L1668.4 1147.1L1670.2 1149.6L1672.3 1155.3L1674.4 1161.6L1676.1 1171.1L1677.7 1181.4L1680.3 1187.1L1682.7 1187.1L1685.4 1185.5L1688.0 1182.9L1693.1 1164.8L1697.1 1139.5L1700.7 1126.7L1703.1 1133.3L1705.3 1146.7L1707.5 1157.3L1708.5 1160.0L1709.5 1162.0L1710.9 1163.3L1713.0 1163.8L1715.5 1163.5L1717.7 1162.4L1719.7 1159.4L1721.1 1155.1L1722.8 1151.4L1724.7 1149.6L1726.7 1148.3L1728.8 1146.3L1732.4 1140.3L1735.9 1132.6L1739.0 1125.0L1740.9 1119.2L1742.3 1113.5L1744.1 1108.0L1746.2 1102.3L1748.6 1096.8L1750.9 1094.4L1753.0 1096.9L1755.0 1102.3L1756.8 1108.0L1758.5 1114.9L1760.0 1122.1L1761.9 1125.9L1763.6 1124.9L1765.4 1122.7L1767.0 1121.6L1768.3 1124.0L1769.3 1128.0L1770.4 1130.1L1771.9 1127.9L1773.6 1123.4L1775.5 1119.9L1777.2 1119.2L1779.1 1119.0L1780.6 1118.2L1781.7 1114.2L1782.0 1108.7L1783.2 1104.6L1785.2 1103.7L1787.7 1103.6L1790.0 1102.9L1791.9 1101.1L1793.6 1098.6L1795.1 1096.1L1796.2 1093.3L1797.2 1090.3L1798.5 1088.5L1800.3 1088.2L1802.5 1088.9L1804.5 1090.2L1806.9 1094.3L1808.8 1100.2L1810.4 1106.3L1811.7 1113.8L1812.7 1121.5L1813.8 1125.0L1815.2 1121.5L1816.6 1115.0L1818.1 1111.4L1819.1 1114.3L1820.0 1119.8L1821.5 1123.3L1822.8 1123.0L1824.3 1121.9L1825.7 1121.6L1827.4 1126.3L1828.5 1133.8L1830.0 1137.8L1832.2 1134.3L1834.9 1127.4L1837.6 1123.3L1839.6 1123.9L1841.7 1125.8L1843.6 1128.4L1845.8 1136.3L1847.1 1147.0L1848.7 1157.3L1850.6 1167.4L1852.7 1177.2L1855.5 1182.0L1858.2 1180.6L1861.2 1176.5L1864.0 1171.8L1866.9 1163.2L1869.4 1153.5L1871.6 1148.8L1872.9 1151.8L1874.1 1157.8L1875.9 1162.4L1878.0 1164.1L1880.5 1165.1L1882.7 1165.0L1884.8 1161.5L1886.2 1155.4L1887.8 1149.7L1889.7 1145.0L1891.8 1140.6L1893.7 1138.6L1895.7 1142.1L1897.5 1148.9L1899.7 1153.9L1901.4 1155.1L1903.2 1155.8L1904.8 1155.6L1906.1 1153.6L1907.1 1150.5L1908.2 1148.8L1910.0 1151.2L1912.0 1156.1L1914.1 1160.7L1916.1 1163.5L1918.1 1166.0L1920.1 1168.4L1922.1 1171.3L1924.2 1174.1L1926.1 1175.2L1927.8 1173.1L1929.4 1168.9L1931.2 1165.0L1933.2 1161.7L1935.5 1158.6L1937.7 1157.3L1939.5 1158.7L1941.2 1161.8L1942.8 1165.0L1944.2 1169.3L1945.5 1173.9L1947.0 1176.1L1949.0 1173.2L1951.3 1167.4L1953.8 1162.4L1955.8 1160.3L1957.9 1158.6L1959.8 1158.2L1961.4 1161.4L1962.7 1166.6L1964.0 1169.3L1966.2 1164.0L1968.4 1153.2L1970.8 1143.7L1972.5 1139.2L1974.3 1135.2L1975.9 1133.5L1977.5 1139.0L1978.8 1149.2L1981.0 1155.6L1982.9 1155.4L1985.0 1154.2L1987.0 1153.9L1989.2 1158.3L1990.9 1165.2L1992.9 1169.3L1994.6 1169.1L1996.4 1167.8L1998.0 1165.9L2000.3 1157.7L2001.7 1146.1L2003.1 1135.2L2004.8 1126.9L2006.5 1119.1L2008.2 1115.7L2009.8 1120.6L2011.3 1130.6L2013.3 1138.6L2015.0 1140.6L2016.8 1142.0L2018.4 1143.7L2020.3 1148.7L2021.9 1154.5L2023.5 1157.3L2025.2 1155.1L2026.9 1150.2L2028.6 1145.4L2030.3 1141.9L2032.0 1138.6L2033.7 1136.1L2034.9 1135.4L2036.1 1135.1L2037.1 1134.4L2038.6 1130.6L2039.8 1125.6L2041.4 1122.5L2042.7 1122.5L2044.2 1123.1L2045.6 1123.3L2046.8 1122.7L2047.9 1121.7L2049.0 1120.8L2050.7 1119.6L2052.5 1118.4L2054.1 1118.2L2055.9 1122.5L2056.9 1130.1L2058.4 1136.1L2059.8 1137.6L2061.3 1138.7L2062.7 1140.3L2064.6 1147.1L2066.0 1156.1L2067.8 1164.1L2069.6 1169.4L2071.7 1174.1L2073.7 1176.1L2076.0 1171.6L2078.3 1163.5L2080.5 1159.0L2081.8 1160.8L2083.1 1164.3L2084.8 1166.7L2086.9 1167.0L2089.4 1166.3L2091.6 1165.0L2093.7 1161.3L2095.1 1156.0L2096.7 1150.5L2098.9 1143.4L2101.2 1136.0L2103.5 1132.7L2106.1 1138.9L2108.6 1150.3L2111.1 1156.5L2113.0 1153.4L2114.9 1146.6L2117.1 1140.3L2119.6 1135.5L2122.3 1131.1L2124.7 1129.3L2126.8 1133.8L2128.4 1142.4L2130.7 1148.8L2132.6 1150.1L2134.6 1150.6L2136.6 1151.4L2138.7 1153.6L2140.7 1156.2L2142.6 1157.3L2144.4 1155.7L2146.0 1152.4L2147.7 1148.8L2149.8 1144.7L2151.9 1140.4L2154.5 1136.9L2157.0 1135.0L2159.7 1133.6L2162.1 1133.5L2164.6 1137.4L2166.3 1144.2L2168.1 1150.5L2169.8 1155.3L2171.5 1159.7L2173.2 1161.6L2174.8 1158.6L2176.4 1152.7L2178.3 1148.0L2179.6 1146.6L2181.0 1145.7L2182.6 1145.4L2185.0 1147.5L2187.7 1151.1L2190.2 1153.1L2191.9 1152.1L2193.6 1150.1L2195.3 1148.8L2197.3 1149.3L2199.3 1150.3L2201.3 1150.5L2203.3 1148.2L2205.1 1144.3L2207.2 1141.2L2209.4 1139.7L2211.8 1138.7L2214.0 1138.6L2216.4 1141.0L2218.5 1144.7L2220.8 1147.1L2222.8 1147.3L2224.9 1146.7L2226.8 1145.4L2229.0 1141.0L2230.6 1134.8L2232.7 1129.3L2235.4 1125.4L2238.4 1122.0L2241.2 1120.8L2244.4 1123.8L2247.3 1129.9L2249.7 1136.1L2251.3 1141.1L2252.5 1146.1L2254.0 1150.5L2255.8 1154.3L2258.0 1157.7L2259.9 1159.0L2261.9 1155.5L2263.7 1148.3L2265.9 1142.0L2268.0 1138.6L2270.3 1135.7L2272.7 1134.4L2275.0 1135.2L2277.4 1137.4L2279.5 1140.3L2281.9 1148.2L2283.4 1158.3L2285.4 1165.9L2286.8 1168.0L2288.3 1169.6L2289.7 1170.1L2291.4 1166.7L2293.0 1160.8L2294.8 1157.3L2296.4 1158.3L2298.1 1160.5L2299.9 1161.6L2302.6 1159.5L2305.4 1155.6L2308.4 1153.1L2311.0 1153.6L2313.7 1155.1L2316.1 1155.6L2317.6 1154.3L2319.0 1152.3L2320.3 1151.4L2323.0 1154.9L2325.9 1162.0L2328.5 1169.3L2330.7 1176.6L2332.7 1184.1L2335.3 1188.0L2337.9 1187.1L2340.8 1184.5L2343.0 1182.0L2343.6 1180.6L2344.1 1179.3L2344.7 1178.6L2345.9 1179.7L2347.5 1181.8L2348.9 1182.9L2350.7 1179.9L2352.2 1174.0L2354.0 1168.4L2356.1 1163.4L2358.4 1158.7L2360.8 1156.5L2363.8 1160.1L2366.9 1167.1L2370.2 1171.8L2372.2 1172.2L2374.2 1171.7L2376.1 1171.0L2377.7 1169.7L2379.1 1168.2L2380.4 1167.6L2381.6 1168.5L2382.7 1170.2L2383.8 1171.0L2384.9 1169.0L2385.9 1165.6L2387.2 1163.3L2388.5 1163.4L2390.0 1164.0L2391.4 1164.1L2392.9 1162.5L2394.3 1159.7L2395.7 1157.3L2397.1 1156.2L2398.6 1155.3L2399.9 1153.9L2401.2 1150.0L2402.0 1145.0L2403.3 1141.2L2404.9 1140.1L2406.7 1139.5L2408.4 1138.6L2410.1 1136.3L2411.7 1133.5L2413.5 1131.0L2416.2 1129.3L2419.2 1128.0L2422.0 1126.7L2424.4 1125.6L2426.6 1124.6L2428.8 1123.3L2431.2 1121.0L2433.5 1118.5L2435.6 1117.4L2437.7 1119.6L2439.6 1123.6L2441.6 1125.9L2443.2 1125.2L2444.9 1123.5L2446.7 1122.5L2448.7 1123.3L2450.8 1124.9L2452.7 1125.9L2453.8 1125.6L2454.9 1125.1L2456.1 1125.0L2459.0 1128.6L2462.4 1134.1L2465.4 1136.9L2467.5 1134.7L2469.3 1130.3L2471.4 1126.7L2473.0 1125.6L2474.8 1125.0L2476.5 1124.2L2477.9 1122.9L2479.3 1121.5L2480.7 1120.8L2482.1 1121.4L2483.5 1122.6L2485.0 1123.3L2486.9 1122.4L2489.0 1120.6L2490.9 1119.9L2493.1 1122.0L2495.0 1126.0L2496.9 1130.1L2498.8 1134.4L2500.7 1138.9L2502.8 1142.9L2505.0 1146.3L2507.3 1149.3L2509.6 1150.5L2511.9 1148.3L2514.2 1143.9L2516.4 1140.3L2517.9 1139.4L2519.3 1138.9L2520.7 1137.8L2522.7 1132.5L2524.3 1125.3L2526.6 1119.9L2528.8 1118.2L2531.3 1117.2L2533.4 1117.4L2535.8 1121.6L2537.4 1128.8L2539.4 1135.2L2541.5 1138.9L2543.9 1142.2L2546.2 1143.7L2547.7 1143.1L2549.1 1141.8L2550.4 1141.2L2551.9 1143.1L2553.3 1146.3L2554.7 1148.0L2556.1 1146.9L2557.5 1144.6L2558.9 1142.0L2560.9 1138.7L2562.9 1135.2L2564.9 1133.5L2566.6 1135.3L2568.3 1138.6L2570.0 1140.3L2571.6 1139.1L2573.3 1136.3L2575.1 1133.5L2577.4 1130.9L2580.0 1128.4L2582.8 1126.7L2585.4 1126.3L2588.1 1126.6L2590.4 1127.6L2592.3 1130.9L2593.7 1135.2L2595.5 1137.8L2597.6 1137.2L2600.0 1135.4L2602.3 1133.5L2604.6 1132.1L2606.9 1130.7L2609.1 1129.3L2610.9 1127.5L2612.5 1125.7L2614.2 1125.0L2617.5 1130.5L2620.8 1140.0L2624.4 1145.4L2627.6 1143.1L2630.9 1138.3L2633.8 1136.1L2636.5 1141.7L2638.4 1152.1L2640.6 1160.7L2642.1 1163.7L2643.8 1166.0L2645.7 1167.6L2647.6 1168.4L2649.6 1168.7L2651.6 1168.4L2654.1 1166.5L2656.4 1163.3L2658.4 1159.9L2660.1 1155.5L2661.5 1150.7L2663.5 1148.0L2666.1 1148.4L2669.2 1150.2L2672.0 1152.2L2674.4 1154.3L2676.5 1156.5L2678.8 1158.2L2681.4 1159.4L2684.0 1160.1L2686.5 1159.9L2689.2 1156.8L2691.6 1152.2L2694.1 1149.7L2696.9 1151.4L2699.9 1155.0L2702.7 1157.3L2704.4 1157.2L2706.1 1156.6L2707.8 1156.5L2710.5 1159.1L2713.4 1163.1L2716.0 1165.0L2717.7 1163.3L2719.3 1160.0L2721.1 1157.3L2722.9 1156.5L2725.0 1156.1L2727.0 1155.6L2728.7 1154.9L2730.4 1154.2L2732.1 1153.9L2733.9 1154.4L2735.6 1155.3L2737.2 1156.5L2739.0 1158.4L2740.7 1160.8L2742.3 1163.3L2743.7 1166.8L2744.9 1170.5L2746.6 1172.7L2748.7 1172.6L2751.2 1171.6L2753.4 1170.1L2754.7 1168.0L2755.6 1165.4L2756.8 1164.1L2758.5 1165.8L2760.5 1169.0L2762.7 1171.0L2765.2 1169.9L2768.0 1167.7L2770.4 1166.7L2771.9 1168.1L2773.2 1170.4L2774.6 1171.8L2776.0 1171.2L2777.4 1169.9L2778.9 1169.3L2780.9 1170.5L2782.9 1173.0L2784.8 1175.2L2786.3 1176.7L2787.7 1178.1L2789.1 1178.6L2791.1 1175.9L2793.0 1171.1L2795.0 1167.6L2796.4 1166.8L2797.8 1166.6L2799.3 1166.7L2801.2 1168.0L2803.2 1169.9L2805.2 1171.0L2806.9 1170.3L2808.6 1169.0L2810.3 1168.4L2812.3 1169.6L2814.3 1171.6L2816.3 1172.7L2818.5 1171.1L2820.8 1168.2L2823.1 1166.7L2825.4 1168.3L2827.7 1171.3L2829.9 1172.7L2832.1 1169.9L2834.2 1164.9L2836.7 1160.7L2839.4 1158.9L2842.5 1157.6L2845.2 1157.3L2847.0 1158.3L2848.5 1160.1L2850.3 1161.6L2853.0 1162.8L2856.0 1163.8L2858.8 1164.1L2860.6 1163.6L2862.3 1162.7L2863.9 1162.4L2866.1 1164.7L2868.3 1168.3L2870.7 1171.0L2873.0 1171.6L2875.4 1171.6L2877.5 1171.0L2879.2 1169.2L2880.4 1166.7L2881.8 1164.1L2883.5 1161.5L2885.3 1158.8L2886.9 1155.6L2888.0 1150.4L2888.7 1144.6L2890.3 1140.3L2892.1 1138.8L2894.3 1137.9L2896.2 1137.8L2897.5 1138.8L2898.5 1140.4L2899.6 1141.2L2900.9 1140.1L2902.3 1138.2L2903.9 1136.9L2906.8 1138.1L2910.2 1140.6L2913.2 1142.0L2915.1 1141.7L2916.8 1140.8L2918.3 1139.5L2920.0 1136.5L2921.2 1132.7L2922.6 1129.3L2923.9 1127.2L2925.4 1125.3L2926.8 1123.3L2928.4 1120.2L2930.0 1116.9L2931.9 1114.8L2933.9 1114.4L2936.0 1114.7L2937.9 1115.7L2940.1 1118.7L2942.0 1123.2L2943.8 1127.6L2945.7 1131.7L2947.6 1135.7L2949.8 1137.8L2952.4 1136.8L2955.3 1134.0L2958.3 1131.0L2961.6 1127.5L2965.0 1123.7L2968.5 1120.8L2971.3 1119.3L2974.2 1118.4L2977.0 1118.2L2979.9 1119.3L2982.7 1121.1L2985.5 1122.5L2988.0 1123.0L2990.5 1123.3L2993.2 1123.3L2996.8 1123.3L3000.6 1123.0L3004.2 1122.5L3006.8 1121.5L3009.3 1120.4L3011.9 1119.9L3015.7 1121.5L3019.8 1124.3L3023.8 1125.9L3027.4 1125.6L3031.0 1124.4L3034.0 1122.5L3036.1 1119.4L3037.6 1115.4L3039.1 1111.4L3040.6 1107.6L3042.2 1103.8L3044.2 1100.4L3046.8 1097.3L3049.8 1094.7L3052.7 1093.6L3055.1 1094.5L3057.5 1096.7L3059.5 1099.5L3061.5 1105.1L3062.8 1112.0L3064.6 1118.2L3066.7 1122.7L3069.0 1126.7L3071.4 1128.4L3073.6 1126.0L3075.8 1121.4L3078.2 1118.2L3079.9 1118.3L3081.6 1118.9L3083.3 1119.1L3085.3 1117.3L3087.2 1114.7L3089.3 1113.1L3091.8 1113.4L3094.6 1114.6L3096.9 1116.5L3098.7 1120.0L3099.8 1124.4L3101.2 1128.4L3102.6 1131.2L3104.1 1133.6L3105.9 1135.8L3107.7 1137.5L3109.7 1138.9L3111.7 1140.7L3114.2 1144.8L3116.7 1149.4L3119.6 1152.5L3122.0 1152.6L3124.7 1151.8L3127.4 1151.5L3130.6 1152.7L3133.9 1154.6L3137.2 1156.4L3140.5 1157.3L3143.9 1158.1L3146.9 1159.3L3149.0 1161.3L3150.8 1163.6L3152.8 1166.1L3156.4 1170.5L3160.6 1175.0L3164.5 1176.9L3168.3 1173.2L3172.0 1166.7L3175.3 1163.2L3177.8 1165.8L3180.1 1170.5L3182.1 1173.0L3183.5 1171.4L3184.6 1168.3L3186.1 1166.1L3187.6 1165.9L3189.4 1166.4L3190.9 1167.1L3192.3 1168.8L3193.5 1170.9L3194.9 1172.0L3196.9 1171.0L3199.3 1168.7L3201.7 1167.1L3203.7 1166.9L3205.6 1167.2L3207.6 1168.1L3210.9 1172.7L3214.1 1179.4L3217.3 1183.8L3219.3 1184.4L3221.2 1184.2L3223.2 1183.8L3225.9 1182.7L3228.6 1181.1L3231.0 1178.9L3233.9 1173.5L3236.3 1166.7L3238.9 1161.3L3240.7 1159.2L3242.6 1157.6L3244.7 1156.4L3247.5 1155.1L3250.5 1154.2L3253.5 1154.4L3258.0 1158.7L3262.5 1165.3L3266.2 1169.1L3267.6 1168.7L3268.9 1167.6L3270.2 1167.1L3272.4 1169.3L3274.8 1173.0L3277.0 1175.0L3278.3 1174.0L3279.5 1172.2L3280.9 1171.0L3283.8 1172.4L3287.2 1175.3L3290.7 1176.9L3294.5 1175.1L3298.4 1171.8L3302.4 1170.1L3306.7 1171.9L3311.0 1175.4L3315.1 1177.9L3318.2 1178.6L3321.2 1178.7L3323.9 1177.9L3327.2 1174.6L3330.1 1169.8L3332.7 1166.1L3334.0 1165.2L3335.3 1164.6L3336.7 1164.2L3338.8 1164.2L3341.2 1164.5L3343.5 1164.2L3346.5 1161.6L3349.5 1157.7L3352.3 1154.4L3354.2 1152.7L3356.1 1151.3L3358.2 1150.5L3361.3 1150.9L3364.8 1152.2L3367.9 1152.5L3370.5 1151.1L3372.8 1149.0L3374.8 1146.6L3376.5 1143.5L3377.9 1140.1L3379.7 1137.8L3381.8 1137.4L3384.3 1137.8L3386.5 1137.8L3388.2 1136.8L3389.8 1135.6L3391.4 1134.9L3393.3 1135.4L3395.3 1136.4L3397.3 1136.8L3399.6 1135.6L3401.9 1133.3L3404.1 1130.9L3406.4 1128.5L3408.6 1125.9L3411.0 1123.1L3414.0 1118.5L3417.2 1113.5L3420.8 1110.4L3423.9 1110.6L3427.3 1111.9L3430.5 1112.4L3433.2 1110.9L3435.7 1108.5L3438.4 1106.5L3441.2 1105.3L3444.3 1104.4L3447.2 1103.6L3449.5 1102.6L3451.8 1101.7L3454.0 1101.6L3456.3 1103.2L3458.4 1106.0L3460.8 1108.5L3464.2 1110.2L3468.0 1111.7L3471.6 1113.3L3474.7 1115.5L3477.6 1117.8L3480.4 1120.2L3483.0 1122.7L3485.5 1125.3L3488.2 1127.0L3490.8 1127.2L3493.4 1126.9L3496.0 1127.0L3499.0 1128.6L3502.0 1130.9L3504.9 1133.9L3508.8 1140.1L3512.7 1147.7L3516.6 1153.4L3518.9 1155.3L3521.1 1156.6L3523.4 1157.3L3525.7 1157.4L3528.1 1157.0L3530.3 1156.4L3532.0 1155.3L3533.6 1153.9L3535.2 1153.4L3537.4 1155.3L3539.6 1158.8L3542.0 1162.2L3545.1 1165.7L3548.3 1169.1L3550.8 1171.0L3551.6 1171.2L3552.2 1171.1L3552.5 1171.0" stroke="#0000ff" stroke-width="6.25" fill="none" stroke-linejoin="round" stroke-linecap="butt" clip-path="url(#c1)"/>
<rect x="302.5" y="856.6" width="3250.0" height="581.9" stroke="#000" stroke-width="3.33" fill="none"/>
<path d="M302.5 1438.5V1453.1M872.5 1438.5V1453.1M1442.5 1438.5V1453.1M2012.5 1438.5V1453.1M2582.5 1438.5V1453.1M3152.5 1438.5V1453.1M302.5 953.5H287.9M302.5 1050.5H287.9M302.5 1147.5H287.9M302.5 1244.5H287.9M302.5 1341.5H287.9" stroke="#000" stroke-width="3.33" fill="none"/>
<text x="302.5" y="1497.9" font-size="45" text-anchor="middle" textLength="25.2" lengthAdjust="spacingAndGlyphs">0</text>
<text x="872.5" y="1497.9" font-size="45" text-anchor="middle" textLength="50.4" lengthAdjust="spacingAndGlyphs">10</text>
<text x="1442.5" y="1497.9" font-size="45" text-anchor="middle" textLength="50.4" lengthAdjust="spacingAndGlyphs">20</text>
<text x="2012.5" y="1497.9" font-size="45" text-anchor="middle" textLength="50.4" lengthAdjust="spacingAndGlyphs">30</text>
<text x="2582.5" y="1497.9" font-size="45" text-anchor="middle" textLength="50.4" lengthAdjust="spacingAndGlyphs">40</text>
<text x="3152.5" y="1497.9" font-size="45" text-anchor="middle" textLength="50.4" lengthAdjust="spacingAndGlyphs">50</text>
<text x="271.2" y="968.1" font-size="45" text-anchor="end" textLength="117.1" lengthAdjust="spacingAndGlyphs">0.010</text>
<text x="271.2" y="1065.1" font-size="45" text-anchor="end" textLength="117.1" lengthAdjust="spacingAndGlyphs">0.005</text>
<text x="271.2" y="1162.1" font-size="45" text-anchor="end" textLength="117.1" lengthAdjust="spacingAndGlyphs">0.000</text>
<text x="271.2" y="1259.1" font-size="45" text-anchor="end" textLength="151.4" lengthAdjust="spacingAndGlyphs">−0.005</text>
<text x="271.2" y="1356.1" font-size="45" text-anchor="end" textLength="151.4" lengthAdjust="spacingAndGlyphs">−0.010</text>
<text x="1925.8" y="1569.4" font-size="63" text-anchor="middle" textLength="239.0" lengthAdjust="spacingAndGlyphs">Time (s)</text>
<text transform="translate(89.0 1147.5) rotate(-90)" x="0" y="0" font-size="63" text-anchor="middle" textLength="436.4" lengthAdjust="spacingAndGlyphs">Velocity (cm/s)</text>
<clipPath id="c2"><rect x="302.5" y="1631.4" width="3250.0" height="581.1"/></clipPath>
<path d="M302.5 1631.4V2212.5M872.5 1631.4V2212.5M1442.5 1631.4V2212.5M2012.5 1631.4V2212.5M2582.5 1631.4V2212.5M3152.5 1631.4V2212.5M302.5 1759.6H3552.5M302.5 1922.0H3552.5M302.5 2084.4H3552.5" stroke="#b0b0b0" stroke-width="3.33" fill="none" stroke-linecap="square"/>
<path d="M302.5 1901.5L302.6 1901.4L303.0 1901.4L303.4 1901.4L303.8 1901.5L304.7 1902.9L305.6 1905.5L306.5 1908.3L307.7 1910.4L308.6 1911.2L309.5 1911.7L310.5 1912.2L311.5 1913.0L312.5 1914.3L313.5 1915.9L314.5 1917.6L315.3 1919.3L316.0 1920.9L316.5 1922.6L317.1 1924.2L317.9 1925.7L318.9 1927.2L320.2 1928.7L321.6 1930.0L323.0 1930.8L323.9 1931.1L324.9 1931.2L325.8 1931.1L326.8 1930.8L328.1 1930.2L329.5 1929.4L330.8 1928.3L331.9 1927.0L332.7 1924.5L333.2 1921.3L333.6 1918.4L334.4 1916.8L335.3 1916.7L336.3 1917.0L337.3 1917.6L338.3 1918.1L338.9 1918.3L339.6 1918.5L340.2 1918.8L340.8 1919.3L342.2 1921.8L343.5 1925.5L344.7 1929.6L345.9 1933.4L346.9 1936.0L347.8 1938.6L348.7 1941.1L349.7 1943.6L350.9 1946.6L352.2 1949.9L353.5 1952.6L354.8 1953.8L355.8 1953.3L356.8 1952.0L357.8 1950.4L358.7 1948.7L359.6 1946.2L360.5 1943.3L361.4 1940.6L362.5 1938.5L363.4 1937.7L364.4 1937.2L365.4 1936.7L366.3 1935.9L367.1 1934.1L367.6 1931.7L368.1 1929.5L368.9 1928.3L369.8 1928.3L370.8 1928.9L371.9 1929.5L372.7 1929.5L373.4 1927.6L373.6 1924.1L373.6 1920.8L374.0 1919.3L374.7 1920.8L375.5 1924.3L376.5 1928.2L377.8 1930.8L378.7 1931.4L379.6 1931.8L380.6 1931.9L381.6 1932.1L382.6 1932.3L383.6 1932.5L384.6 1932.5L385.4 1932.1L387.2 1926.4L388.0 1916.1L388.5 1904.9L389.3 1896.4L389.9 1893.8L390.6 1891.7L391.2 1889.8L391.8 1887.5L392.4 1882.9L392.8 1877.5L393.4 1872.4L394.4 1868.3L395.2 1866.5L396.2 1864.8L397.2 1863.6L398.2 1863.2L399.1 1863.9L399.9 1865.4L400.7 1867.5L401.5 1869.6L402.6 1874.0L403.5 1879.5L404.3 1884.2L405.1 1886.2L406.1 1882.7L406.9 1874.2L407.7 1863.4L408.4 1853.0L409.1 1841.3L409.8 1828.8L410.3 1815.7L410.9 1802.0L411.8 1781.3L412.6 1757.4L413.5 1737.6L414.3 1729.3L414.9 1736.6L415.6 1754.5L416.2 1777.3L416.8 1799.5L417.4 1829.7L417.8 1864.1L418.4 1896.1L419.9 1919.3L420.8 1924.7L421.8 1928.5L422.8 1932.3L423.7 1937.2L424.7 1954.2L425.2 1976.7L425.5 1996.3L426.2 2004.8L427.1 1999.4L428.0 1987.6L429.0 1975.7L430.1 1970.3L431.0 1974.1L431.9 1982.4L432.9 1990.8L433.9 1994.6L435.1 1990.0L436.5 1979.9L437.8 1969.8L439.0 1965.2L440.4 1973.2L441.6 1990.7L442.7 2008.2L444.1 2016.2L445.0 2013.5L446.0 2007.3L447.0 2001.2L447.9 1998.4L448.6 2000.8L449.3 2006.1L449.9 2011.3L450.5 2013.7L451.2 2008.1L451.7 1995.0L452.2 1979.8L453.0 1967.8L453.7 1962.3L454.5 1956.9L455.3 1952.8L456.1 1951.2L456.8 1954.0L457.6 1960.1L458.4 1966.2L459.4 1969.1L460.3 1967.7L461.4 1964.6L462.4 1961.5L463.2 1960.1L463.9 1962.6L464.4 1967.9L464.8 1973.1L465.3 1975.4L466.0 1970.9L466.7 1960.8L467.5 1950.7L468.3 1946.1L469.3 1951.0L470.3 1962.0L471.5 1972.9L472.9 1978.0L473.9 1976.3L475.1 1972.3L476.2 1968.3L477.3 1966.5L478.2 1968.1L479.0 1971.7L479.8 1975.2L480.6 1976.7L481.3 1970.3L481.5 1956.2L481.9 1941.5L483.6 1933.4L484.5 1933.1L485.5 1933.3L486.6 1933.6L487.5 1933.4L489.1 1926.8L489.9 1915.1L490.2 1903.9L490.8 1898.9L491.4 1902.7L492.0 1910.9L492.7 1919.2L493.8 1923.2L495.0 1921.6L496.4 1918.0L497.7 1914.5L498.9 1913.0L500.5 1920.1L501.3 1935.5L501.9 1950.7L502.8 1957.6L503.4 1953.3L503.9 1943.4L504.8 1932.6L506.6 1925.7L507.8 1924.8L509.1 1924.5L510.5 1924.1L511.7 1923.2L513.7 1914.0L514.5 1899.4L514.8 1885.8L515.5 1879.8L516.3 1886.1L516.8 1900.2L518.0 1915.3L520.6 1924.4L522.4 1925.7L524.5 1926.4L526.5 1926.4L528.3 1925.7L530.4 1920.2L531.2 1910.5L531.4 1899.5L532.1 1890.0L532.9 1884.4L533.8 1879.2L534.8 1874.3L535.9 1869.6L537.0 1864.9L538.2 1860.0L539.6 1856.0L541.0 1854.3L542.2 1855.4L543.5 1858.1L544.9 1860.8L546.1 1861.9L547.9 1859.5L549.5 1853.9L551.1 1846.9L552.5 1840.3L553.9 1831.9L555.2 1822.2L556.4 1814.3L557.6 1810.9L558.4 1813.5L559.2 1819.3L560.1 1825.7L561.4 1830.1L562.3 1830.9L563.3 1831.3L564.3 1831.7L565.2 1832.6L566.6 1838.0L567.5 1846.1L568.2 1853.6L569.1 1856.8L570.3 1853.5L571.6 1846.0L573.0 1838.5L574.2 1835.2L575.2 1838.8L576.2 1846.7L577.1 1854.5L578.0 1858.1L578.9 1854.9L579.9 1847.9L580.9 1840.9L581.8 1837.7L582.8 1841.1L583.7 1848.5L584.6 1856.0L585.6 1859.4L586.5 1857.4L587.5 1853.0L588.5 1848.6L589.5 1846.6L590.4 1848.6L591.4 1853.0L592.3 1857.4L593.3 1859.4L594.3 1857.2L595.2 1852.4L596.2 1847.5L597.1 1845.4L597.9 1847.9L598.6 1853.7L599.5 1860.1L600.9 1864.5L602.1 1865.4L603.5 1865.7L604.9 1866.1L606.0 1867.0L607.5 1872.3L608.2 1880.2L608.7 1888.2L609.9 1893.8L610.8 1895.0L611.7 1895.8L612.8 1896.5L613.7 1897.7L615.1 1901.0L616.3 1905.4L617.5 1910.0L618.8 1914.2L620.1 1917.2L621.4 1920.0L622.7 1922.8L623.9 1925.7L624.9 1929.6L625.8 1933.8L626.6 1937.7L627.7 1941.0L628.6 1942.4L629.6 1943.4L630.6 1944.5L631.5 1946.1L633.5 1955.4L635.0 1969.1L636.7 1982.4L639.2 1990.7L640.4 1991.7L641.8 1992.1L643.1 1992.4L644.3 1993.3L645.8 1998.6L646.5 2006.6L647.0 2014.9L648.1 2021.3L649.3 2024.1L650.6 2026.5L651.9 2028.3L653.2 2029.0L654.5 2027.6L655.8 2024.6L657.0 2021.6L658.3 2020.1L659.3 2020.6L660.3 2022.0L661.2 2023.3L662.2 2023.9L663.1 2023.0L664.1 2021.2L665.1 2019.5L666.0 2018.8L667.3 2021.5L668.4 2027.2L669.5 2033.1L671.1 2036.6L672.0 2036.9L673.0 2036.7L674.0 2036.4L674.9 2036.6L676.3 2039.3L677.5 2043.6L678.5 2047.7L679.5 2049.4L681.2 2042.9L682.6 2028.0L683.8 2010.3L685.1 1995.8L686.0 1987.6L686.9 1979.3L687.9 1972.9L688.9 1970.3L690.1 1972.7L691.4 1978.5L692.8 1985.9L694.0 1993.3L695.5 2005.2L696.8 2019.4L698.2 2031.5L699.9 2036.6L701.2 2034.4L702.6 2029.0L704.1 2022.9L705.5 2018.8L706.2 2018.0L706.8 2017.6L707.5 2017.1L708.1 2016.2L709.5 2006.9L710.2 1991.9L710.8 1977.9L711.9 1971.6L713.3 1975.7L714.8 1984.9L716.6 1994.1L718.3 1998.4L719.5 1997.0L720.9 1993.3L722.2 1988.7L723.4 1984.4L724.5 1979.0L725.6 1972.8L726.6 1967.6L728.0 1965.2L728.9 1965.9L730.0 1967.7L731.1 1969.8L732.3 1971.6L733.4 1972.5L734.5 1973.2L735.6 1974.1L736.6 1975.4L738.4 1983.6L739.5 1996.1L740.5 2007.4L741.7 2012.4L743.1 2010.1L744.8 2004.2L746.3 1997.1L747.6 1990.7L748.4 1986.2L749.0 1981.8L749.6 1977.4L750.1 1972.9L750.7 1967.5L751.1 1961.8L751.6 1956.2L752.7 1951.2L754.1 1947.8L755.8 1944.7L757.6 1941.7L759.1 1938.5L760.3 1934.5L761.3 1930.3L762.1 1925.8L762.9 1920.6L764.1 1907.4L764.9 1890.5L765.9 1875.9L767.5 1869.6L768.8 1871.2L770.2 1875.5L771.7 1880.9L773.1 1886.2L774.4 1893.5L775.4 1902.2L776.6 1909.6L778.2 1913.0L779.2 1912.6L780.4 1911.3L781.6 1909.6L782.8 1907.9L784.0 1905.4L785.1 1902.5L786.2 1900.0L787.3 1898.9L788.7 1900.7L790.2 1904.6L791.6 1908.6L793.0 1910.4L794.0 1909.9L794.9 1908.4L795.9 1906.3L796.8 1904.0L798.2 1897.3L799.2 1888.3L800.3 1879.5L801.9 1873.4L802.8 1872.2L803.8 1871.4L804.8 1870.7L805.7 1869.6L806.8 1866.5L807.6 1862.4L808.4 1858.7L809.5 1856.8L810.4 1857.1L811.4 1858.1L812.4 1859.1L813.4 1859.4L814.7 1856.0L815.5 1849.2L816.4 1842.5L817.9 1839.0L819.2 1839.2L820.7 1840.2L822.2 1841.6L823.6 1842.8L824.6 1843.9L825.6 1845.2L826.5 1846.3L827.4 1846.6L828.3 1845.8L829.3 1844.1L830.2 1842.4L831.2 1841.5L832.3 1842.4L833.6 1844.2L834.7 1846.0L835.8 1846.6L837.3 1842.1L838.2 1832.7L839.2 1822.6L840.9 1816.0L841.9 1815.1L843.1 1814.7L844.2 1814.3L845.2 1813.5L846.8 1809.4L848.0 1803.5L849.1 1798.1L850.3 1795.6L851.2 1796.6L852.2 1798.8L853.2 1801.0L854.2 1802.0L855.7 1799.8L857.4 1794.9L859.1 1790.1L860.5 1788.0L861.6 1789.2L862.6 1792.1L863.5 1795.8L864.4 1799.5L865.4 1805.4L866.3 1812.5L867.1 1818.6L868.2 1821.1L869.3 1818.6L870.4 1812.7L871.7 1806.6L873.3 1803.3L874.2 1803.3L875.2 1803.9L876.2 1804.5L877.1 1804.6L878.3 1801.6L879.0 1796.1L879.7 1790.7L880.9 1788.0L882.1 1788.0L883.4 1788.8L884.8 1790.2L886.0 1791.8L888.2 1798.2L889.7 1807.6L890.9 1817.7L892.4 1826.2L893.6 1831.3L894.7 1836.1L896.0 1840.1L897.5 1842.8L898.4 1843.3L899.4 1843.4L900.4 1843.6L901.3 1844.1L903.0 1848.4L904.3 1855.3L905.4 1861.7L906.4 1864.5L907.4 1862.0L908.2 1856.4L909.1 1850.7L910.3 1847.9L911.2 1848.4L912.1 1849.8L913.1 1851.2L914.1 1851.7L915.1 1850.7L916.0 1848.5L916.9 1846.3L917.9 1845.4L919.1 1846.5L920.4 1849.0L921.7 1852.0L923.0 1854.3L924.2 1855.3L925.4 1856.0L926.5 1856.8L927.6 1858.1L929.6 1867.5L930.7 1882.0L931.6 1895.4L933.2 1901.5L934.4 1900.0L935.6 1896.5L936.9 1892.9L938.3 1891.3L940.4 1893.8L942.7 1899.4L945.0 1905.1L947.3 1907.9L948.5 1907.2L949.8 1905.4L951.0 1903.6L952.4 1902.8L954.2 1904.3L956.2 1907.4L958.2 1910.5L960.0 1911.7L962.4 1906.9L964.4 1897.0L966.3 1887.1L968.4 1882.4L969.5 1882.9L970.5 1884.4L971.6 1886.2L972.8 1887.5L973.7 1887.8L974.7 1887.9L975.7 1888.1L976.6 1888.7L978.5 1893.6L979.7 1901.5L980.7 1911.1L981.7 1920.6L982.9 1933.4L983.8 1947.6L985.0 1961.7L986.8 1974.2L988.6 1982.9L990.6 1991.4L992.9 1998.4L995.7 2002.2L997.2 2002.7L998.9 2002.6L1000.6 2002.0L1002.1 2000.9L1004.5 1995.0L1006.4 1985.6L1008.0 1976.8L1009.7 1972.9L1011.7 1977.4L1013.5 1987.6L1015.7 1998.8L1018.7 2006.0L1020.8 2007.1L1023.2 2007.2L1025.5 2007.4L1027.6 2008.6L1030.7 2019.2L1032.2 2036.4L1033.3 2052.4L1035.2 2059.6L1037.3 2056.3L1039.6 2048.8L1042.0 2041.3L1044.2 2037.9L1046.8 2045.2L1049.1 2060.8L1051.5 2076.5L1054.4 2083.8L1056.5 2081.4L1058.9 2075.6L1061.3 2069.8L1063.3 2067.3L1064.8 2069.7L1066.0 2075.0L1067.1 2080.2L1068.4 2082.6L1069.9 2079.6L1071.4 2073.0L1073.1 2066.4L1074.8 2063.4L1076.8 2066.8L1079.0 2074.3L1081.2 2081.8L1083.2 2085.1L1084.8 2081.2L1086.1 2072.5L1087.6 2063.0L1090.1 2057.1L1092.1 2056.2L1094.5 2056.3L1096.9 2056.5L1099.0 2055.8L1101.1 2053.0L1102.6 2048.9L1103.9 2044.1L1105.4 2039.2L1107.4 2031.3L1109.3 2022.2L1111.4 2013.8L1114.3 2008.6L1116.1 2007.9L1118.1 2008.0L1120.1 2008.1L1122.0 2007.3L1125.0 2000.5L1127.4 1989.5L1129.6 1979.2L1132.2 1974.2L1133.7 1975.0L1135.4 1977.4L1137.0 1979.7L1138.5 1980.5L1141.0 1974.7L1142.8 1962.2L1144.6 1948.0L1147.5 1937.2L1150.0 1932.3L1152.9 1927.9L1156.0 1924.6L1158.9 1923.2L1161.2 1924.1L1163.4 1926.6L1165.6 1929.2L1167.9 1930.8L1169.8 1931.2L1171.8 1931.2L1173.7 1930.7L1175.5 1929.5L1178.4 1921.9L1180.1 1909.4L1181.8 1897.1L1184.4 1890.0L1185.8 1889.6L1187.4 1889.9L1188.9 1890.3L1190.3 1890.0L1192.5 1887.1L1194.2 1882.4L1195.7 1876.3L1197.2 1869.6L1199.9 1849.3L1202.3 1822.1L1204.7 1798.3L1207.4 1788.0L1210.0 1796.6L1212.7 1815.6L1215.6 1834.9L1218.9 1844.1L1220.4 1843.1L1221.9 1840.4L1223.5 1837.3L1225.2 1835.2L1226.8 1834.7L1228.4 1834.8L1230.1 1834.7L1231.6 1833.9L1234.5 1825.7L1236.6 1812.2L1238.7 1799.0L1241.8 1791.8L1243.7 1791.8L1245.9 1793.0L1247.9 1794.2L1249.7 1794.4L1251.1 1792.5L1252.0 1789.3L1252.8 1785.7L1254.0 1782.9L1255.4 1781.1L1256.9 1779.4L1258.5 1778.1L1259.9 1777.8L1261.1 1778.6L1262.2 1780.5L1263.2 1782.9L1264.2 1785.4L1265.7 1790.7L1266.9 1797.4L1268.4 1803.5L1270.6 1807.1L1272.4 1807.7L1274.4 1807.5L1276.5 1806.9L1278.3 1805.8L1279.8 1803.9L1281.0 1801.2L1282.1 1798.3L1283.4 1795.6L1284.8 1793.2L1286.3 1790.7L1287.9 1788.7L1289.2 1788.0L1290.4 1789.4L1291.4 1792.4L1292.4 1795.7L1293.6 1798.2L1294.5 1799.0L1295.4 1799.5L1296.4 1800.0L1297.4 1800.7L1298.7 1802.6L1299.9 1805.1L1301.1 1807.3L1302.5 1808.4L1303.7 1808.1L1305.0 1807.1L1306.3 1805.8L1307.6 1804.6L1308.9 1803.1L1310.3 1801.3L1311.6 1799.9L1312.7 1799.5L1314.0 1801.4L1314.9 1805.5L1315.6 1810.7L1316.5 1816.0L1318.1 1824.3L1319.7 1833.6L1321.4 1843.5L1322.9 1853.0L1324.2 1862.2L1325.3 1871.4L1326.5 1880.4L1328.0 1888.7L1329.4 1895.1L1330.9 1901.3L1332.6 1906.9L1334.4 1911.7L1335.6 1914.2L1336.9 1916.3L1338.2 1918.3L1339.5 1920.6L1341.1 1924.8L1342.7 1929.8L1344.3 1934.0L1345.8 1935.9L1346.8 1935.4L1347.7 1934.1L1348.6 1932.4L1349.7 1930.8L1351.2 1928.6L1352.8 1926.0L1354.5 1923.9L1356.0 1923.2L1357.7 1925.5L1359.0 1930.5L1360.5 1935.6L1362.4 1938.5L1364.4 1938.1L1366.6 1936.5L1368.9 1934.9L1370.8 1934.6L1372.9 1938.2L1374.3 1944.8L1375.7 1951.3L1377.7 1955.0L1379.5 1955.4L1381.5 1955.0L1383.6 1954.0L1385.4 1952.5L1388.0 1946.2L1389.8 1936.4L1391.2 1925.8L1393.0 1916.8L1394.6 1911.4L1396.3 1906.2L1398.1 1901.8L1400.2 1898.9L1401.5 1898.0L1403.0 1897.5L1404.5 1897.4L1405.8 1897.7L1406.9 1898.5L1407.9 1899.9L1408.7 1901.7L1409.6 1904.0L1411.8 1914.1L1413.8 1928.5L1415.9 1943.5L1418.5 1955.0L1420.3 1959.3L1422.1 1962.8L1424.1 1965.9L1426.2 1969.1L1428.2 1972.4L1430.4 1975.8L1432.6 1978.7L1435.1 1980.5L1437.3 1981.1L1439.6 1981.1L1441.9 1980.5L1444.0 1979.3L1446.8 1974.0L1449.0 1965.8L1450.9 1958.3L1453.0 1955.0L1455.2 1958.3L1457.4 1965.7L1459.6 1974.2L1461.9 1980.5L1463.2 1982.9L1464.5 1985.0L1465.8 1986.5L1467.0 1986.9L1468.8 1983.8L1470.4 1977.0L1471.8 1968.7L1473.4 1961.4L1474.9 1954.9L1476.3 1947.9L1477.9 1942.2L1479.7 1939.7L1481.2 1941.0L1482.8 1944.1L1484.5 1947.6L1486.1 1949.9L1487.1 1950.4L1488.0 1950.5L1489.0 1950.6L1489.9 1951.2L1492.1 1955.9L1494.2 1963.4L1496.3 1970.6L1498.9 1974.2L1501.0 1973.1L1503.3 1970.3L1505.7 1967.5L1507.8 1966.5L1510.4 1970.7L1512.5 1979.0L1514.6 1987.1L1516.7 1990.7L1519.2 1986.6L1521.8 1977.4L1524.4 1968.2L1526.9 1964.0L1528.9 1966.7L1530.8 1972.9L1532.7 1979.0L1534.6 1981.8L1536.2 1980.2L1537.8 1976.2L1539.3 1970.8L1540.9 1965.2L1543.7 1952.7L1546.5 1936.7L1549.3 1922.9L1552.4 1916.8L1554.6 1918.6L1557.0 1923.4L1559.3 1929.7L1561.3 1935.9L1563.5 1943.9L1565.3 1952.9L1567.1 1962.0L1569.0 1970.3L1570.8 1977.5L1572.6 1984.9L1574.6 1990.8L1576.6 1993.3L1578.2 1992.3L1579.8 1989.7L1581.5 1986.3L1583.0 1983.1L1584.6 1979.2L1586.1 1974.7L1587.7 1970.9L1589.4 1969.1L1590.9 1969.9L1592.5 1972.2L1594.1 1974.5L1595.8 1975.4L1598.0 1974.0L1600.3 1970.8L1602.6 1966.7L1604.7 1962.7L1606.8 1958.5L1608.7 1954.0L1610.5 1949.3L1612.4 1944.8L1614.2 1939.9L1616.1 1934.4L1618.0 1930.0L1620.0 1928.3L1622.5 1930.7L1625.1 1936.6L1627.7 1944.5L1630.2 1952.5L1633.4 1967.6L1636.1 1986.4L1639.1 2002.9L1643.0 2011.1L1644.7 2011.3L1646.6 2010.3L1648.6 2008.8L1650.6 2007.3L1653.5 2005.3L1656.6 2002.8L1659.5 2000.1L1662.1 1997.1L1664.0 1993.9L1665.5 1990.5L1666.9 1986.9L1668.5 1983.1L1670.5 1977.4L1672.6 1970.8L1674.8 1965.3L1677.4 1962.7L1680.1 1964.5L1683.2 1969.1L1686.2 1973.6L1688.9 1975.4L1691.2 1973.2L1693.1 1968.3L1694.8 1961.8L1696.5 1955.0L1698.8 1941.2L1700.7 1924.0L1702.9 1907.6L1706.7 1896.4L1709.3 1893.8L1712.3 1892.5L1715.2 1891.3L1718.0 1889.2L1721.2 1884.8L1724.1 1879.4L1726.7 1873.3L1729.1 1866.9L1732.0 1858.1L1734.4 1848.5L1736.7 1838.5L1738.7 1828.6L1740.5 1819.2L1742.1 1809.9L1743.5 1800.4L1745.1 1790.4L1746.9 1777.1L1748.6 1762.7L1750.6 1749.0L1753.1 1737.7L1754.8 1732.0L1756.6 1726.8L1758.6 1722.6L1761.0 1720.2L1762.9 1719.8L1765.0 1720.2L1767.1 1721.0L1769.0 1721.8L1770.3 1722.5L1771.4 1723.4L1772.6 1724.2L1773.8 1725.0L1775.3 1725.7L1776.9 1726.4L1778.6 1726.7L1780.2 1726.6L1782.2 1724.8L1784.2 1721.7L1786.1 1718.3L1788.1 1715.4L1790.1 1713.7L1792.1 1712.2L1794.2 1710.8L1796.1 1709.0L1798.5 1705.6L1800.8 1701.3L1803.0 1697.6L1805.1 1696.3L1807.1 1698.2L1808.8 1702.7L1810.5 1708.4L1812.1 1713.8L1813.8 1719.7L1815.3 1726.1L1816.9 1732.6L1818.5 1739.3L1820.4 1746.9L1822.5 1754.6L1824.5 1762.7L1826.4 1771.2L1828.5 1782.6L1830.4 1794.7L1832.3 1807.1L1834.4 1819.1L1836.7 1829.6L1839.3 1839.9L1841.8 1850.1L1844.0 1860.5L1845.8 1871.4L1847.4 1882.2L1848.9 1893.4L1850.4 1905.2L1852.0 1920.4L1853.6 1936.6L1855.1 1953.0L1856.7 1969.0L1858.2 1983.9L1859.7 1998.9L1861.3 2013.3L1863.1 2026.4L1864.6 2035.2L1866.1 2043.5L1867.7 2051.1L1869.5 2058.3L1871.0 2063.4L1872.5 2068.0L1874.2 2072.5L1875.9 2077.4L1877.9 2085.2L1879.9 2094.0L1882.3 2101.8L1885.4 2106.1L1888.0 2106.3L1890.8 2105.1L1893.8 2103.6L1896.6 2103.0L1899.1 2103.5L1901.6 2104.6L1904.0 2105.7L1906.2 2106.1L1907.9 2105.5L1909.4 2104.3L1911.0 2103.3L1912.6 2103.0L1914.9 2104.3L1917.3 2106.9L1919.7 2109.9L1922.1 2112.5L1924.1 2114.6L1926.1 2116.8L1928.1 2118.4L1930.1 2118.9L1932.8 2116.6L1935.5 2111.7L1938.3 2106.5L1941.3 2103.0L1943.6 2102.2L1946.1 2102.3L1948.6 2102.3L1950.8 2101.4L1954.1 2097.1L1957.0 2090.6L1959.5 2083.5L1962.0 2077.4L1963.7 2074.2L1965.4 2071.3L1966.9 2068.4L1968.4 2064.7L1970.7 2055.1L1972.7 2043.1L1974.6 2030.8L1976.3 2020.0L1977.5 2013.9L1978.5 2008.3L1979.6 2003.0L1981.1 1997.7L1983.1 1992.1L1985.5 1986.5L1988.1 1981.3L1990.7 1977.0L1992.7 1974.8L1994.8 1973.2L1996.9 1971.5L1998.7 1969.0L2001.0 1961.7L2002.5 1952.2L2003.7 1941.5L2005.1 1930.7L2006.7 1917.0L2008.3 1901.9L2010.2 1887.7L2013.0 1876.5L2015.2 1872.0L2017.6 1868.4L2020.1 1865.2L2022.6 1862.1L2024.6 1859.7L2026.7 1857.6L2028.7 1855.3L2030.6 1852.6L2032.9 1847.6L2034.8 1841.7L2036.7 1835.3L2038.5 1828.6L2040.9 1819.6L2043.1 1809.8L2045.4 1799.8L2048.1 1790.4L2051.1 1780.6L2054.4 1770.2L2057.8 1761.9L2060.9 1758.5L2063.0 1760.4L2065.1 1765.3L2067.0 1771.5L2068.9 1777.6L2071.0 1785.2L2072.8 1793.5L2074.7 1801.9L2076.8 1809.5L2078.7 1814.6L2080.6 1819.3L2082.6 1823.8L2084.8 1828.6L2087.4 1835.5L2090.0 1843.2L2092.9 1849.6L2096.0 1852.6L2098.6 1850.8L2101.5 1846.6L2104.3 1842.1L2107.1 1839.8L2109.1 1840.4L2111.1 1842.2L2113.1 1844.0L2115.1 1844.6L2118.2 1841.8L2121.3 1836.5L2124.5 1831.2L2127.9 1828.6L2131.4 1829.8L2135.3 1833.2L2139.0 1837.4L2142.2 1841.4L2144.4 1844.9L2146.1 1848.9L2147.9 1852.2L2150.2 1854.1L2153.5 1853.4L2157.3 1850.8L2161.2 1848.2L2164.5 1847.8L2167.9 1852.1L2170.4 1860.0L2172.7 1869.0L2175.7 1876.5L2179.0 1881.0L2182.8 1884.9L2186.5 1888.6L2189.6 1892.4L2191.5 1895.6L2193.0 1898.8L2194.4 1902.0L2195.9 1905.2L2197.7 1908.9L2199.5 1912.7L2201.5 1916.4L2203.9 1919.5L2206.8 1921.9L2210.0 1923.7L2213.4 1925.5L2216.7 1927.5L2219.9 1930.7L2223.1 1934.4L2226.2 1937.5L2229.4 1938.7L2233.5 1936.1L2237.7 1930.6L2241.8 1925.2L2245.4 1922.7L2247.6 1923.4L2249.7 1925.2L2251.6 1927.8L2253.4 1930.7L2256.0 1938.2L2258.0 1948.3L2260.1 1958.3L2262.9 1965.8L2265.1 1968.5L2267.6 1970.5L2270.1 1972.2L2272.5 1973.8L2274.6 1974.9L2276.6 1975.7L2278.6 1976.8L2280.5 1978.5L2283.7 1986.2L2286.1 1997.3L2288.6 2009.5L2291.6 2020.0L2294.7 2027.5L2298.0 2034.8L2301.7 2041.1L2306.0 2045.5L2309.8 2047.1L2314.1 2047.5L2318.4 2047.7L2321.9 2048.7L2324.4 2050.5L2326.4 2052.6L2328.1 2055.2L2329.9 2058.3L2332.8 2066.5L2335.2 2077.3L2337.8 2088.1L2341.1 2096.6L2343.7 2100.7L2346.6 2104.4L2349.5 2107.0L2352.2 2107.7L2355.6 2103.9L2358.6 2095.8L2361.6 2086.5L2365.0 2079.0L2368.1 2075.3L2371.4 2072.3L2374.7 2069.4L2377.8 2066.3L2380.4 2063.0L2382.9 2059.8L2385.1 2056.2L2387.3 2051.9L2390.5 2043.3L2393.4 2032.9L2396.0 2021.7L2398.5 2010.4L2401.1 1998.2L2403.5 1985.6L2405.8 1972.6L2408.1 1959.4L2410.5 1944.5L2412.9 1929.1L2415.2 1913.7L2417.6 1898.8L2419.9 1885.7L2422.3 1872.9L2424.7 1860.3L2427.2 1847.8L2429.8 1835.3L2432.4 1822.8L2435.3 1810.8L2438.4 1799.9L2440.9 1792.3L2443.6 1785.3L2446.5 1778.8L2449.5 1772.8L2452.1 1768.0L2454.8 1763.3L2457.7 1759.4L2460.7 1756.9L2463.0 1756.4L2465.5 1756.8L2467.9 1757.2L2470.3 1756.9L2473.2 1754.6L2475.9 1751.2L2478.6 1747.4L2481.4 1744.1L2484.2 1741.1L2487.1 1737.9L2489.9 1735.4L2492.6 1734.5L2495.1 1735.7L2497.6 1738.3L2499.9 1741.8L2502.2 1745.7L2505.2 1753.1L2507.8 1762.3L2510.4 1771.6L2513.3 1779.2L2515.5 1783.4L2517.7 1787.3L2520.2 1790.4L2522.9 1791.9L2526.3 1790.9L2530.1 1787.7L2533.9 1784.7L2537.3 1784.0L2540.8 1787.9L2543.5 1795.4L2546.0 1804.4L2548.4 1812.7L2550.8 1820.2L2553.1 1828.1L2555.4 1835.4L2558.0 1841.4L2559.8 1844.2L2561.8 1846.5L2563.8 1848.6L2566.0 1851.0L2568.5 1854.2L2571.2 1857.7L2574.0 1861.0L2577.1 1863.7L2580.5 1865.2L2584.3 1866.1L2588.0 1866.9L2591.5 1868.5L2594.9 1871.6L2597.9 1875.7L2601.0 1879.7L2604.2 1882.9L2607.4 1884.3L2610.8 1885.0L2614.1 1885.9L2617.0 1887.6L2619.9 1892.1L2622.2 1898.0L2624.2 1904.4L2626.6 1910.0L2628.9 1913.6L2631.4 1916.9L2633.9 1920.2L2636.1 1924.3L2638.9 1932.4L2641.1 1941.8L2643.2 1952.2L2645.7 1962.6L2649.0 1976.4L2652.4 1991.7L2656.3 2005.6L2661.2 2015.2L2664.1 2017.7L2667.3 2019.1L2670.6 2020.1L2673.9 2021.6L2677.9 2024.6L2682.0 2028.3L2686.0 2031.4L2689.9 2032.8L2692.8 2031.9L2695.6 2029.9L2698.3 2027.7L2701.0 2026.4L2703.4 2026.3L2705.9 2026.6L2708.2 2027.2L2710.6 2028.0L2713.0 2029.2L2715.3 2030.9L2717.6 2032.3L2720.2 2032.8L2724.4 2030.9L2729.1 2027.0L2733.7 2023.2L2737.7 2021.6L2739.9 2022.4L2741.9 2024.0L2743.7 2026.1L2745.7 2028.0L2748.0 2030.0L2750.2 2032.1L2752.6 2034.1L2755.3 2036.0L2758.6 2037.9L2762.2 2039.6L2766.0 2041.2L2769.6 2042.3L2772.9 2042.9L2776.2 2043.2L2779.4 2043.4L2782.4 2043.9L2784.9 2045.2L2787.3 2046.9L2789.6 2048.3L2791.9 2048.7L2794.7 2047.3L2797.4 2044.4L2800.1 2040.8L2803.1 2037.6L2807.3 2034.1L2811.8 2030.6L2816.4 2027.0L2820.7 2023.2L2824.5 2019.3L2828.2 2015.2L2831.7 2010.7L2835.0 2005.7L2838.8 1997.4L2842.2 1987.9L2845.6 1978.1L2849.4 1969.0L2853.4 1961.0L2857.7 1953.0L2862.2 1945.9L2866.9 1940.3L2870.5 1937.8L2874.4 1936.2L2878.1 1934.6L2881.3 1932.3L2883.8 1928.8L2885.8 1924.6L2887.5 1919.9L2889.2 1914.8L2891.8 1905.5L2894.1 1894.8L2896.4 1883.7L2898.8 1873.3L2901.0 1864.9L2903.3 1856.8L2905.7 1849.0L2908.4 1841.4L2911.4 1834.5L2914.8 1827.9L2918.1 1821.2L2921.1 1814.3L2923.9 1806.2L2926.3 1797.6L2928.5 1789.1L2930.7 1780.8L2932.6 1772.9L2934.3 1764.9L2936.2 1757.6L2938.7 1752.1L2940.5 1749.6L2942.5 1747.6L2944.6 1746.2L2946.7 1745.7L2949.0 1746.7L2951.3 1749.0L2953.7 1751.6L2956.2 1753.7L2958.5 1754.8L2960.8 1755.8L2963.3 1756.5L2965.8 1756.9L2968.9 1756.6L2972.1 1755.8L2975.4 1755.1L2978.5 1755.3L2981.9 1756.7L2985.1 1758.9L2988.3 1761.8L2991.3 1764.8L2994.7 1769.0L2997.9 1773.8L3001.0 1778.9L3004.1 1784.0L3007.3 1789.0L3010.5 1794.2L3013.7 1799.4L3016.8 1804.7L3020.0 1810.8L3023.2 1817.3L3026.3 1823.5L3029.6 1828.6L3031.9 1831.9L3034.3 1835.0L3036.8 1837.3L3039.2 1838.2L3041.5 1837.2L3043.9 1834.8L3046.3 1831.6L3048.7 1828.6L3051.9 1824.5L3055.2 1819.6L3058.5 1815.6L3061.5 1814.3L3065.0 1818.6L3068.0 1827.8L3071.0 1838.6L3074.2 1847.8L3077.3 1853.6L3080.4 1859.0L3083.7 1864.0L3087.0 1868.5L3089.8 1871.4L3092.7 1873.8L3095.6 1876.3L3098.2 1879.7L3101.6 1887.4L3104.4 1897.1L3106.9 1907.7L3109.3 1917.9L3111.8 1928.4L3114.2 1939.1L3116.5 1949.6L3118.9 1959.4L3121.0 1966.5L3123.2 1973.1L3125.4 1979.7L3127.7 1986.8L3130.4 1996.8L3133.1 2007.5L3135.9 2018.4L3139.1 2028.9L3142.7 2038.7L3146.6 2048.1L3150.6 2057.6L3154.4 2067.2L3158.1 2078.9L3161.5 2091.6L3165.3 2102.7L3169.8 2109.3L3172.4 2110.5L3175.3 2110.6L3178.3 2110.1L3181.2 2109.3L3185.0 2107.8L3189.0 2105.6L3192.8 2102.8L3196.6 2099.8L3200.5 2095.4L3204.2 2090.2L3207.9 2085.0L3211.9 2080.6L3215.7 2078.0L3219.7 2076.1L3223.7 2074.0L3227.2 2071.1L3230.7 2065.7L3233.6 2059.3L3236.2 2052.1L3238.7 2044.3L3241.9 2032.1L3244.7 2018.4L3247.3 2004.2L3250.1 1990.7L3252.9 1978.6L3255.6 1966.6L3258.5 1955.2L3261.6 1944.7L3264.2 1937.4L3267.0 1930.6L3269.9 1924.2L3273.1 1917.9L3276.6 1911.9L3280.3 1906.0L3284.2 1900.4L3288.4 1895.0L3292.8 1889.3L3297.5 1883.4L3302.4 1878.5L3307.6 1875.8L3312.6 1876.4L3317.9 1879.2L3323.3 1882.1L3328.6 1883.5L3333.6 1882.8L3338.6 1881.0L3343.4 1878.5L3347.8 1875.8L3351.4 1872.7L3354.6 1869.0L3357.7 1865.4L3361.1 1862.4L3364.8 1860.7L3368.7 1859.7L3372.6 1858.5L3376.5 1856.7L3381.3 1852.5L3386.0 1847.0L3390.8 1841.5L3395.6 1837.6L3399.5 1836.2L3403.5 1835.7L3407.3 1835.2L3410.9 1833.7L3414.5 1829.8L3417.6 1824.3L3420.7 1818.8L3424.3 1814.6L3427.9 1812.2L3431.7 1810.4L3435.7 1809.2L3439.6 1808.9L3444.0 1809.5L3448.6 1811.1L3453.0 1813.5L3456.8 1816.5L3460.4 1820.7L3463.2 1825.8L3465.8 1831.6L3468.3 1837.6L3471.4 1845.4L3474.3 1853.9L3477.1 1862.8L3479.8 1872.0L3482.8 1882.8L3485.6 1894.0L3488.4 1905.7L3491.3 1917.9L3495.0 1933.4L3499.0 1949.6L3502.9 1966.3L3506.6 1983.0L3510.2 2000.1L3513.5 2017.4L3516.8 2034.8L3520.0 2051.9L3522.9 2068.8L3525.7 2085.9L3528.5 2102.2L3531.5 2117.0L3533.8 2126.4L3536.2 2134.9L3538.6 2143.0L3541.1 2151.4L3543.8 2161.9L3546.6 2173.4L3549.3 2183.1L3551.4 2187.8L3551.7 2187.9L3552.1 2187.9L3552.4 2187.8L3552.5 2187.8" stroke="#ff0000" stroke-width="6.25" fill="none" stroke-linejoin="round" stroke-linecap="butt" clip-path="url(#c2)"/>
<rect x="302.5" y="1631.4" width="3250.0" height="581.1" stroke="#000" stroke-width="3.33" fill="none"/>
<path d="M302.5 2212.5V2227.1M872.5 2212.5V2227.1M1442.5 2212.5V2227.1M2012.5 2212.5V2227.1M2582.5 2212.5V2227.1M3152.5 2212.5V2227.1M302.5 1759.6H287.9M302.5 1922.0H287.9M302.5 2084.4H287.9" stroke="#000" stroke-width="3.33" fill="none"/>
<text x="302.5" y="2271.9" font-size="45" text-anchor="middle" textLength="25.2" lengthAdjust="spacingAndGlyphs">0</text>
<text x="872.5" y="2271.9" font-size="45" text-anchor="middle" textLength="50.4" lengthAdjust="spacingAndGlyphs">10</text>
<text x="1442.5" y="2271.9" font-size="45" text-anchor="middle" textLength="50.4" lengthAdjust="spacingAndGlyphs">20</text>
<text x="2012.5" y="2271.9" font-size="45" text-anchor="middle" textLength="50.4" lengthAdjust="spacingAndGlyphs">30</text>
<text x="2582.5" y="2271.9" font-size="45" text-anchor="middle" textLength="50.4" lengthAdjust="spacingAndGlyphs">40</text>
<text x="3152.5" y="2271.9" font-size="45" text-anchor="middle" textLength="50.4" lengthAdjust="spacingAndGlyphs">50</text>
<text x="271.2" y="1774.2" font-size="45" text-anchor="end" textLength="117.1" lengthAdjust="spacingAndGlyphs">0.001</text>
<text x="271.2" y="1936.6" font-size="45" text-anchor="end" textLength="117.1" lengthAdjust="spacingAndGlyphs">0.000</text>
<text x="271.2" y="2099.0" font-size="45" text-anchor="end" textLength="151.4" lengthAdjust="spacingAndGlyphs">−0.001</text>
<text x="1925.8" y="2343.4" font-size="63" text-anchor="middle" textLength="239.0" lengthAdjust="spacingAndGlyphs">Time (s)</text>
<text transform="translate(88.5 1922.0) rotate(-90)" x="0" y="0" font-size="63" text-anchor="middle" textLength="557.3" lengthAdjust="spacingAndGlyphs">Displacement (cm)</text>
</svg></body></html>
